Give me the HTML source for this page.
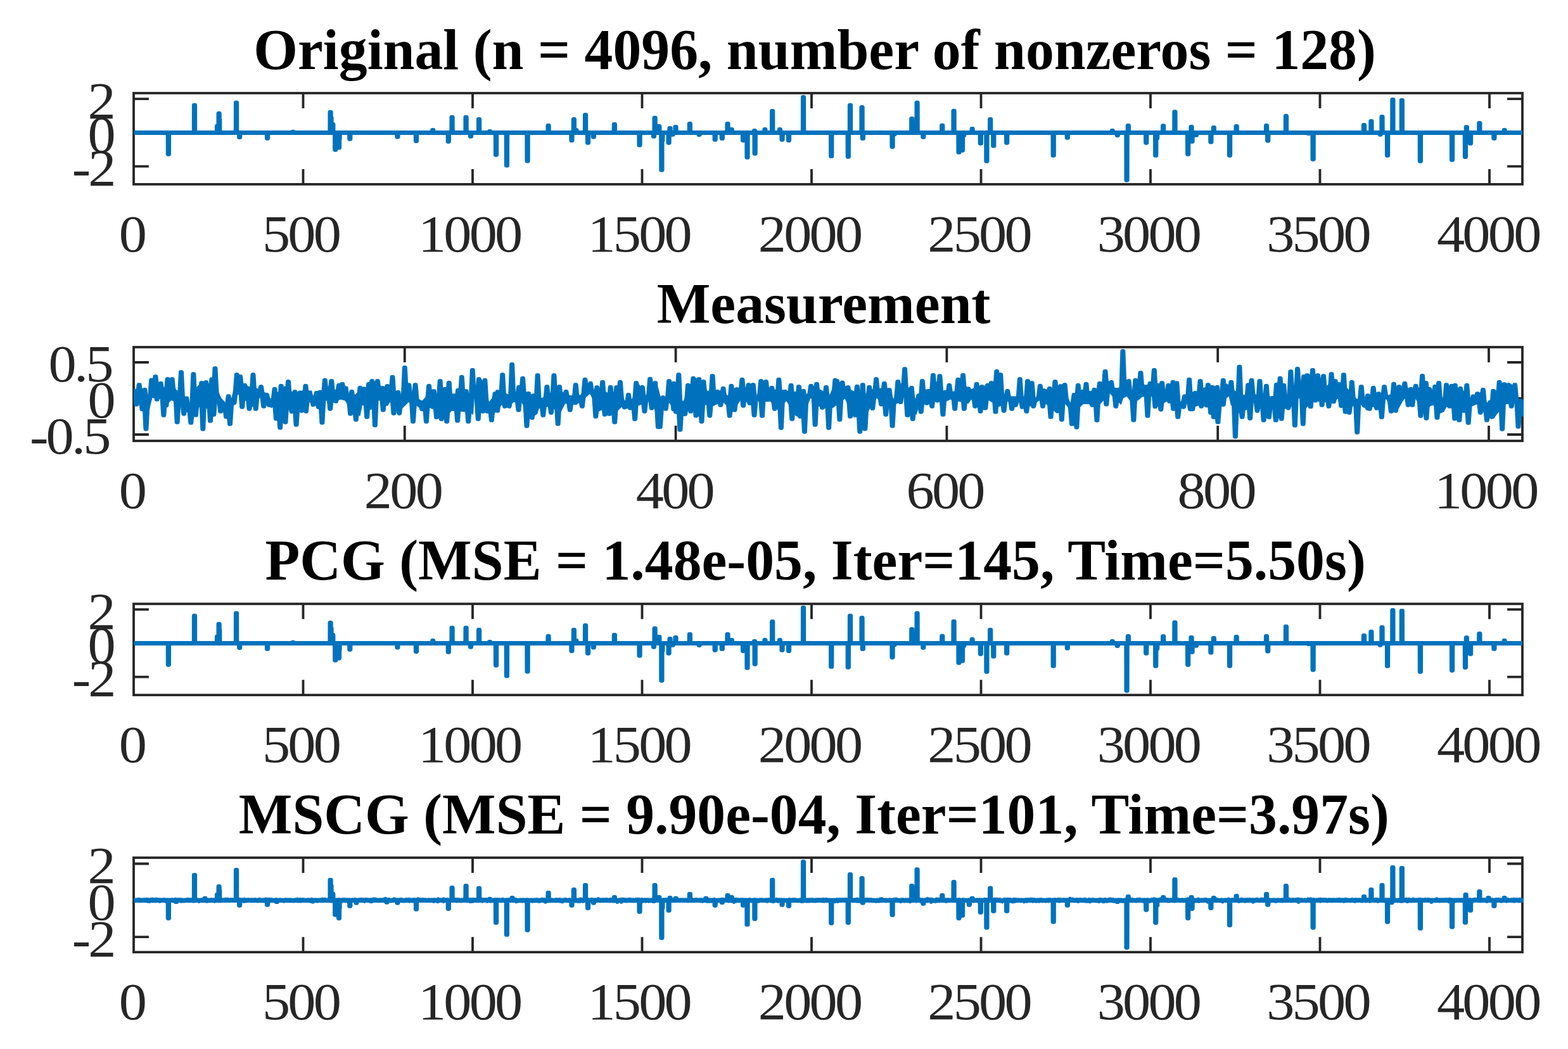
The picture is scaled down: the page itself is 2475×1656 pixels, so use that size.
<!DOCTYPE html>
<html lang="en">
<head>
<meta charset="utf-8">
<title>Sparse signal reconstruction: Original, Measurement, PCG, MSCG</title>
<style>
html,body{margin:0;padding:0;background:#fff;}
body{width:2475px;height:1656px;overflow:hidden;}
svg{display:block;}
text{font-family:"Liberation Serif",serif;}
.t{font-size:82.6px;letter-spacing:-3.5px;fill:#262626;}
.h{font-size:90.3px;font-weight:bold;fill:#000;}
</style>
</head>
<body>
<svg width="2475" height="1656" viewBox="0 0 2475 1656" role="img" aria-label="Four stacked line plots: Original sparse signal, Measurement, PCG reconstruction, MSCG reconstruction">
<rect width="100%" height="100%" fill="#fff"/>
<clipPath id="c0"><rect x="211.0" y="147.0" width="2192" height="143.9"/></clipPath>
<rect x="211.0" y="147.0" width="2192" height="143.9" fill="none" stroke="#262626" stroke-width="3.8" stroke-linejoin="miter"/>
<path d="M478.5 290.9V267M478.5 147V170.9M746 290.9V267M746 147V170.9M1013.5 290.9V267M1013.5 147V170.9M1281 290.9V267M1281 147V170.9M1548.5 290.9V267M1548.5 147V170.9M1816 290.9V267M1816 147V170.9M2083.5 290.9V267M2083.5 147V170.9M2351 290.9V267M2351 147V170.9M211 156.21H234.9M2403 156.21H2379.1M211 209.45H234.9M2403 209.45H2379.1M211 262.69H234.9M2403 262.69H2379.1" fill="none" stroke="#262626" stroke-width="3.8" stroke-linecap="butt"/>
<g clip-path="url(#c0)" fill="none" stroke="#0072BD" stroke-width="7.0" stroke-linejoin="round" stroke-linecap="butt">
<path d="M211.5 209.45H2405.0M265.21 209.45L265.31 243.17L266.51 243.17L266.61 209.45M306.3 209.45L306.4 166.34L307.6 166.34L307.7 209.45M342.38 209.45L342.48 199.36L343.68 199.36L343.78 209.45M344.95 209.45L345.05 179.27L346.25 179.27L346.35 209.45M345.49 209.45L345.59 188.48L346.79 188.48L346.89 209.45M372.34 209.45L372.44 162.37L373.64 162.37L373.74 209.45M377.46 209.45L377.56 216.42L378.76 216.42L378.86 209.45M421.36 209.45L421.46 218.22L422.66 218.22L422.76 209.45M461.67 209.45L461.77 208.32L462.97 208.32L463.07 209.45M520.9 209.45L521 177.35L522.2 177.35L522.3 209.45M521.8 209.45L521.9 185.92L523.1 185.92L523.2 209.45M524.61 209.45L524.71 196.42L525.91 196.42L526.01 209.45M528.57 209.45L528.67 236.26L529.87 236.26L529.97 209.45M534.33 209.45L534.43 232.93L535.63 232.93L535.73 209.45M534.87 209.45L534.97 219.24L536.17 219.24L536.27 209.45M551.61 209.45L551.71 219.24L552.91 219.24L553.01 209.45M626.74 209.45L626.84 216.04L628.04 216.04L628.14 209.45M656.31 209.45L656.41 222.44L657.61 222.44L657.71 209.45M682.54 209.45L682.64 205.38L683.84 205.38L683.94 209.45M707.12 209.45L707.22 223.34L708.42 223.34L708.52 209.45M712.88 209.45L712.98 185.28L714.18 185.28L714.28 209.45M734.89 209.45L734.99 185.28L736.19 185.28L736.29 209.45M742.31 209.45L742.41 215.14L743.61 215.14L743.71 209.45M755.37 209.45L755.47 188.48L756.67 188.48L756.77 209.45M772.39 209.45L772.49 207.43L773.69 207.43L773.79 209.45M782.34 209.45L782.44 244.2L783.64 244.2L783.74 209.45M799.23 209.45L799.33 261.09L800.53 261.09L800.63 209.45M831.87 209.45L831.97 254.05L833.17 254.05L833.27 209.45M864.89 209.45L864.99 198.47L866.19 198.47L866.29 209.45M901.75 209.45L901.85 221.42L903.05 221.42L903.15 209.45M905.2 209.45L905.3 188.48L906.5 188.48L906.6 209.45M908.66 209.45L908.76 205.38L909.96 205.38L910.06 209.45M923.38 209.45L923.48 181.44L924.68 181.44L924.78 209.45M927.35 209.45L927.45 225.26L928.65 225.26L928.75 209.45M936.18 209.45L936.28 216.04L937.48 216.04L937.58 209.45M969.2 209.45L969.3 196.42L970.5 196.42L970.6 209.45M1008.87 209.45L1008.97 229.1L1010.17 229.1L1010.27 209.45M1031.27 209.45L1031.37 215.14L1032.57 215.14L1032.67 209.45M1032.93 209.45L1033.03 186.31L1034.23 186.31L1034.33 209.45M1039.59 209.45L1039.69 199.62L1040.89 199.62L1040.99 209.45M1043.69 209.45L1043.79 268.13L1044.99 268.13L1045.09 209.45M1044.68 209.45L1044.78 221.42L1045.98 221.42L1046.08 209.45M1054.91 209.45L1055.01 225.26L1056.21 225.26L1056.31 209.45M1056.83 209.45L1056.93 202.56L1058.13 202.56L1058.23 209.45M1061.06 209.45L1061.16 212.2L1062.36 212.2L1062.46 209.45M1065.79 209.45L1065.89 200.39L1067.09 200.39L1067.19 209.45M1088.19 209.45L1088.29 195.52L1089.49 195.52L1089.59 209.45M1102.91 209.45L1103.01 212.46L1104.21 212.46L1104.31 209.45M1127.99 209.45L1128.09 220.14L1129.29 220.14L1129.39 209.45M1139.13 209.45L1139.23 218.34L1140.43 218.34L1140.53 209.45M1147.83 209.45L1147.93 195.4L1149.13 195.4L1149.23 209.45M1154.1 209.45L1154.2 204.48L1155.4 204.48L1155.5 209.45M1172.41 209.45L1172.51 221.42L1173.71 221.42L1173.81 209.45M1178.81 209.45L1178.91 248.29L1180.11 248.29L1180.21 209.45M1190.32 209.45L1190.42 206.4L1191.62 206.4L1191.72 209.45M1190.96 209.45L1191.06 242.28L1192.26 242.28L1192.36 209.45M1206.71 209.45L1206.81 204.48L1208.01 204.48L1208.11 209.45M1218.48 209.45L1218.58 175.43L1219.78 175.43L1219.88 209.45M1230.26 209.45L1230.36 204.48L1231.56 204.48L1231.66 209.45M1233.84 209.45L1233.94 220.26L1235.14 220.26L1235.24 209.45M1244.33 209.45L1244.43 221.42L1245.63 221.42L1245.73 209.45M1267.37 209.45L1267.47 153.42L1268.67 153.42L1268.77 209.45M1311.53 209.45L1311.63 246.37L1312.83 246.37L1312.93 209.45M1338.11 209.45L1338.21 247.14L1339.41 247.14L1339.51 209.45M1341.31 209.45L1341.41 166.34L1342.61 166.34L1342.71 209.45M1359.87 209.45L1359.97 169.54L1361.17 169.54L1361.27 209.45M1361.15 209.45L1361.25 218.34L1362.45 218.34L1362.55 209.45M1407.87 209.45L1407.97 231.4L1409.17 231.4L1409.27 209.45M1411.07 209.45L1411.17 211.56L1412.37 211.56L1412.47 209.45M1438.58 209.45L1438.68 187.46L1439.88 187.46L1439.98 209.45M1446.9 209.45L1447 162.37L1448.2 162.37L1448.3 209.45M1456.63 209.45L1456.73 216.3L1457.93 216.3L1458.03 209.45M1486.58 209.45L1486.68 198.34L1487.88 198.34L1487.98 209.45M1504.88 209.45L1504.98 175.3L1506.18 175.3L1506.28 209.45M1512.82 209.45L1512.92 240.36L1514.12 240.36L1514.22 209.45M1518.32 209.45L1518.42 237.16L1519.62 237.16L1519.72 209.45M1520.5 209.45L1520.6 213.48L1521.8 213.48L1521.9 209.45M1533.93 209.45L1534.03 203.46L1535.23 203.46L1535.33 209.45M1547.12 209.45L1547.22 226.28L1548.42 226.28L1548.52 209.45M1556.71 209.45L1556.81 254.18L1558.01 254.18L1558.11 209.45M1562.47 209.45L1562.57 188.48L1563.77 188.48L1563.87 209.45M1567.59 209.45L1567.69 230.12L1568.89 230.12L1568.99 209.45M1588.46 209.45L1588.56 225.26L1589.76 225.26L1589.86 209.45M1662.01 209.45L1662.11 245.22L1663.31 245.22L1663.41 209.45M1684.15 209.45L1684.25 217.32L1685.45 217.32L1685.55 209.45M1755.06 209.45L1755.16 206.4L1756.36 206.4L1756.46 209.45M1763.12 209.45L1763.22 213.48L1764.42 213.48L1764.52 209.45M1777.84 209.45L1777.94 284.26L1779.14 284.26L1779.24 209.45M1780.14 209.45L1780.24 198.47L1781.44 198.47L1781.54 209.45M1808.56 209.45L1808.66 225.26L1809.86 225.26L1809.96 209.45M1823.53 209.45L1823.63 245.22L1824.83 245.22L1824.93 209.45M1825.46 209.45L1825.56 217.96L1826.76 217.96L1826.86 209.45M1835.43 209.45L1835.53 198.72L1836.73 198.72L1836.83 209.45M1853.74 209.45L1853.84 176.71L1855.04 176.71L1855.14 209.45M1874.47 209.45L1874.57 243.17L1875.77 243.17L1875.87 209.45M1879.85 209.45L1879.95 200.39L1881.15 200.39L1881.25 209.45M1880.87 209.45L1880.97 223.34L1882.17 223.34L1882.27 209.45M1887.27 209.45L1887.37 213.22L1888.57 213.22L1888.67 209.45M1910.66 209.45L1910.76 223.98L1911.96 223.98L1912.06 209.45M1915.14 209.45L1915.24 201.54L1916.44 201.54L1916.54 209.45M1940.35 209.45L1940.45 245.22L1941.65 245.22L1941.75 209.45M1950.97 209.45L1951.07 199.62L1952.27 199.62L1952.37 209.45M1998.33 209.45L1998.43 198.47L1999.63 198.47L1999.73 209.45M2000.5 209.45L2000.6 222.06L2001.8 222.06L2001.9 209.45M2029.3 209.45L2029.4 183.36L2030.6 183.36L2030.7 209.45M2064.88 209.45L2064.98 210.54L2066.18 210.54L2066.28 209.45M2071.92 209.45L2072.02 251.24L2073.22 251.24L2073.32 209.45M2152.29 209.45L2152.39 197.44L2153.59 197.44L2153.69 209.45M2163.69 209.45L2163.79 191.43L2164.99 191.43L2165.09 209.45M2177.86 209.45L2177.96 212.2L2179.16 212.2L2179.26 209.45M2180.8 209.45L2180.9 184.39L2182.1 184.39L2182.2 209.45M2189.38 209.45L2189.48 245.22L2190.68 245.22L2190.78 209.45M2197.7 209.45L2197.8 157.38L2199 157.38L2199.1 209.45M2212.16 209.45L2212.26 158.41L2213.46 158.41L2213.56 209.45M2241.21 209.45L2241.31 254.18L2242.51 254.18L2242.61 209.45M2291.38 209.45L2291.48 252.26L2292.68 252.26L2292.78 209.45M2312.24 209.45L2312.34 247.4L2313.54 247.4L2313.64 209.45M2314.16 209.45L2314.26 200.64L2315.46 200.64L2315.56 209.45M2320.31 209.45L2320.41 226.28L2321.61 226.28L2321.71 209.45M2334.64 209.45L2334.74 194.5L2335.94 194.5L2336.04 209.45M2357.68 209.45L2357.78 218.22L2358.98 218.22L2359.08 209.45M2373.93 209.45L2374.03 205.38L2375.23 205.38L2375.33 209.45"/>
</g>
<text class="t" transform="translate(187.8 396.5) scale(1.069 1)">0</text>
<text class="t" transform="translate(413.93 396.5) scale(1.069 1)">500</text>
<text class="t" transform="translate(659.92 396.5) scale(1.069 1)">1000</text>
<text class="t" transform="translate(927.42 396.5) scale(1.069 1)">1500</text>
<text class="t" transform="translate(1196.8 396.5) scale(1.069 1)">2000</text>
<text class="t" transform="translate(1464.3 396.5) scale(1.069 1)">2500</text>
<text class="t" transform="translate(1731.67 396.5) scale(1.069 1)">3000</text>
<text class="t" transform="translate(1999.18 396.5) scale(1.069 1)">3500</text>
<text class="t" transform="translate(2267.93 396.5) scale(1.069 1)">4000</text>
<text class="t" transform="translate(138.62 186.61) scale(1.069 1)">2</text>
<text class="t" transform="translate(138.5 239.85) scale(1.069 1)">0</text>
<text class="t" transform="translate(113.68 293.09) scale(1.069 1)">-2</text>
<text class="h" transform="translate(400.21 108.8) scale(0.9939 1)">Original (n = 4096, number of nonzeros = 128)</text>
<clipPath id="c1"><rect x="211.0" y="548.0" width="2193.9" height="148"/></clipPath>
<rect x="211.0" y="548.0" width="2192" height="148" fill="none" stroke="#262626" stroke-width="3.8" stroke-linejoin="miter"/>
<path d="M638.8 696V672.1M638.8 548V571.9M1066.6 696V672.1M1066.6 548V571.9M1494.4 696V672.1M1494.4 548V571.9M1922.2 696V672.1M1922.2 548V571.9M2350 696V672.1M2350 548V571.9M211 572H234.9M2403 572H2379.1M211 629H234.9M2403 629H2379.1M211 686H234.9M2403 686H2379.1" fill="none" stroke="#262626" stroke-width="3.8" stroke-linecap="butt"/>
<g clip-path="url(#c1)" fill="none" stroke="#0072BD" stroke-width="7.0" stroke-linejoin="round" stroke-linecap="butt">
<path d="M210.99 614.06L214.93 614.06L220.31 613.39L224.49 612.87L227.47 616.45L233.45 623.62L235.84 616.76L241.21 601.33L242.29 598.24L243 598.86L250.17 605.1L252.56 606.74L259.73 611.67L260.32 610.56L268.09 596.14L270.48 600.64L278.24 615.26L284.81 620.11L291.98 625.41L294.37 629.99L299.15 639.15L305.36 623.45L310.49 610.48L315.27 606.78L321.6 601.88L325.43 603.37L331.4 605.7L335.58 595.55L336.18 597L342.75 613.02L345.14 618.84L349.32 628.4L352.9 632.34L355.29 634.97L360.07 631.59L365.44 627.8L368.43 616.28L369.62 611.67L375.6 594.75L376.79 591.37L382.76 605.7L386.95 607.46L394.11 610.48L398.29 611.36L405.46 612.87L410.84 615.55L418.6 619.44L420.75 621.89L426.96 628.99L428.16 627.95L433.83 622.97L438.55 618.84L439.03 618.42L446.67 611.7L449.42 609.28L456.23 614.62L461.6 618.84L463.4 619.05L469.73 619.8L474.15 617.62L476.54 616.45L479.46 616.45L488.36 616.45L491.95 616.45L494.33 625.05L498.52 621.68L502.4 618.55L505.56 617.97L508.97 617.35L514.64 612.71L518.82 609.28L527.18 613.93L529.57 615.26L537.34 606.92L537.64 606.6L544.51 608.89L548.69 610.28L549.28 610.48L551.43 625.41L557.65 623.47L560.99 622.42L568.4 614.98L571.38 611.98L571.98 612.22L577.95 614.66L584.64 604.45L585.12 604.29L591.69 602.12L598.26 606.93L600.65 608.69L606.62 612.27L611.4 609.54L614.98 607.49L615.58 608.24L624.54 619.44L626.33 620.33L632.9 623.62L635.29 619.07L642.16 606.01L644.85 611.92L649.62 622.42L657.99 627.74L662.76 630.78L666.35 632.58L669.33 629.26L678.29 619.3L682.47 614.66L686.06 620.03L688.45 623.62L692.93 619.85L699.8 614.06L701.59 613.6L705.59 612.58L712.94 620.02L714.13 621.23L720.1 624.81L725.96 614.37L729.66 614.52L733.24 614.66L736.53 617.67L740.41 621.23L746.98 617.43L748.77 616.39L751.76 614.66L758.57 602.37L760.66 598.6L765.38 613.55L771.95 634.37L772.42 633.77L780.9 623.12L783.59 619.74L789.45 616.76L792.25 618.05L800.32 621.77L801.21 622.18L810.77 621.55L815.55 621.23L822.12 609.59L823.91 611.44L831.08 618.84L836.45 622.97L838.84 624.81L845.23 622.73L848.4 624.57L850.78 625.96L854.97 628.4L864.52 622.31L868.11 620.03L874.08 614.38L879.45 609.28L885.43 615.61L889.61 620.03L892 621.02L899.76 624.22L909.91 623.63L916.48 623.26L924.25 611.07L928.43 604.51L931.42 608.55L938.58 618.24L944.56 612.77L945.75 611.67L951.13 615L958.29 619.44L965.46 619.86L968.45 620.03L975.02 611.26L976.09 609.83L980.99 620.67L986.37 632.58L989.95 631.78L997.12 630.19L998.43 627.56L1007.87 608.69L1009.06 606.3L1018.62 625.41L1023.4 617.29L1030.56 605.1L1032.35 606.51L1038.92 611.67L1040.36 617.19L1043.58 629.59L1045.97 628.4L1051.35 625.72L1054.93 616.24L1059.71 603.62L1065.09 609.79L1065.68 610.48L1070.16 618.8L1078.23 633.77L1085.99 616.11L1090.17 606.6L1094.35 601.82L1098.83 596.69L1103.01 598.73L1106.89 600.63L1112.87 610.89L1116.45 617.05L1126.01 616.61L1129.59 616.45L1132.58 616.45L1136.76 616.45L1141.54 619.56L1148.7 624.22L1156.47 616.02L1159.45 612.87L1163.04 612.84L1167.22 612.81L1169.01 612.6L1176.77 611.67L1179.16 609.95L1185.14 605.65L1186.93 610.01L1193.5 626.01L1198.28 615.6L1205.15 600.63L1209.62 608L1214.4 615.85L1215.6 615.67L1222.17 614.66L1227.84 614.91L1235.9 615.26L1241.28 616.6L1243.07 617.05L1255.02 618.24L1256.21 617.89L1265.17 615.26L1266.37 616.55L1272.34 623.02L1279.51 614.78L1284.28 609.28L1292.05 613.33L1298.02 616.45L1303.4 619.85L1309.37 623.62L1314.74 611.23L1319.76 599.67L1325.38 614.06L1333.74 609.88L1334.93 609.28L1345.68 616.45L1346.88 616.95L1353.57 619.77L1357.03 621.23L1361.33 621.23L1367.18 621.23L1370.17 619.12L1373.16 617.01L1377.34 614.06L1383.91 613.46L1390.48 612.87L1394.66 612.62L1400.63 612.27L1402.42 615.52L1410.19 629.59L1417.35 614.9L1422.13 605.1L1426.91 607.61L1434.68 611.67L1435.27 612.63L1445.43 628.99L1446.62 628.01L1449.61 625.54L1453.01 622.73L1458.57 617.48L1461.55 614.66L1466.93 615.31L1469.02 615.56L1475.89 605.59L1478.28 602.12L1483.95 610.13L1488.43 616.45L1495 617.56L1495.18 617.59L1500.38 617.62L1506.35 617.65L1512.92 604.15L1516.2 597.4L1525.46 609.88L1528.45 612.27L1531.43 614.66L1533.23 613.99L1543.38 610.18L1545.77 609.28L1552.94 608.81L1554.73 608.69L1560.7 606.95L1561.89 606.6L1569.06 602.66L1576.23 589.64L1578.62 600.57L1583.4 622.42L1589.97 623.85L1597.13 625.41L1600.06 625.5L1608.36 625.76L1616.13 626.01L1617.02 623.75L1625.38 602.66L1626.28 605.59L1633.45 628.99L1641.21 620.26L1647.78 612.87L1651.96 614.66L1652.56 614.49L1660.32 612.27L1667.49 609.74L1670.48 608.69L1677.35 607.8L1681.83 617.96L1687.8 631.5L1689.59 635.56L1692.58 620.63L1695.68 621.09L1698.67 621.53L1705.12 616.52L1707.51 614.66L1709.9 615.61L1717.66 618.72L1719.45 619.44L1724.53 618.55L1727.82 615.55L1731.4 612.27L1737.97 604.29L1739.76 602.12L1748.72 599.73L1751.71 603.35L1758.87 612.03L1765.44 612.27L1769.62 607.69L1773.21 603.77L1777.99 598.53L1778.58 600.36L1783.96 616.85L1786.95 626.01L1795.9 599.99L1796.38 598.6L1803.07 604.33L1806.06 606.89L1812.03 609.28L1818.6 603.72L1818.72 603.62L1826.96 605.7L1827.56 605.9L1830.55 606.89L1839.51 614.66L1842.49 611.78L1847.87 606.6L1849.66 605.63L1854.44 603.02L1855.63 608.03L1862.2 635.56L1864.59 633.11L1873.55 623.92L1880.66 619.9L1883.58 618.24L1885.38 618.32L1890.57 618.55L1891.95 617.63L1900.61 611.87L1900.9 611.67L1908.07 610.06L1910.16 609.59L1913.45 609.59L1917.33 609.59L1919.12 614.63L1924.44 629.59L1927.18 623.84L1934.95 607.6L1936.14 605.1L1939.73 608.34L1942.71 611.05L1948.69 616.45L1955.26 619.74L1961.83 623.02L1965.41 624.22L1967.2 624.81L1968.4 620.85L1972.88 606.01L1978.55 616.43L1982.13 623.02L1989.3 621.95L1994.08 621.23L1998.86 623.2L2004.23 625.41L2006.62 626.21L2011.4 627.8L2017.79 605.41L2018.57 605.57L2023.46 606.6L2027.53 620.08L2030.75 630.78L2038.28 616.58L2042.46 608.69L2051.42 606.45L2054.4 605.7L2060.67 592.87L2061.57 593.15L2067.3 594.95L2072.32 593.42L2077.1 591.96L2080.68 594.99L2084.86 598.53L2091.43 605.51L2094.42 608.69L2102.18 601.79L2104.57 599.67L2110.55 604.81L2111.74 605.54L2115.92 608.09L2120.4 609.77L2125.48 611.67L2126.67 612.87L2128.46 614.66L2135.03 622.12L2141.6 629.59L2148.17 630.16L2155.34 630.78L2156.24 629.88L2160.36 625.73L2163.34 622.73L2165.97 622.05L2173.74 620.03L2177.02 621.23L2180.31 622.42L2187.47 623.14L2192.25 623.62L2199.42 620.1L2204.44 617.65L2207.78 614.2L2212.56 609.28L2213.75 609.7L2217.34 610.97L2222.71 612.87L2226 612.75L2230.78 612.58L2234.06 612.25L2240.03 611.67L2247.2 603.48L2247.92 602.66L2253.77 611.67L2257.95 614.89L2261.54 617.65L2262.73 615.96L2268.11 608.39L2272.88 618.4L2277.66 628.4L2279.45 624.81L2283.04 617.65L2287.22 609.28L2291.4 608.23L2294.09 607.56L2299.76 617.21L2300.72 618.84L2307.53 617.07L2309.91 616.45L2314.1 621.51L2321.26 630.19L2323.65 628.18L2328.73 623.92L2332.01 621.85L2336.79 618.84L2341.57 626.27L2347.54 635.56L2353.52 633.33L2354.71 632.88L2358.29 624.22L2361.88 615.56L2363.07 614.08L2370.54 604.81L2377.41 611.67L2381.59 608.69L2385.77 605.7L2390.55 615.26L2397.12 628.4L2403.69 651.09L2403.69 658.26L2397.12 647.51L2390.55 636.76L2385.77 637.39L2381.59 637.95L2377.41 637.95L2370.54 645.39L2363.07 653.48L2361.88 655.27L2358.29 660.65L2354.71 661.54L2353.52 661.84L2347.54 656.47L2341.57 651.09L2336.79 644.52L2332.01 637.95L2328.73 639.36L2323.65 641.54L2321.26 643.7L2314.1 650.19L2309.91 648.1L2307.53 646.91L2300.72 660.78L2299.76 662.73L2294.09 649.97L2291.4 643.92L2287.22 643.33L2283.04 642.73L2279.45 649.9L2277.66 650.71L2272.88 652.88L2268.11 646.7L2262.73 639.74L2261.54 640.04L2257.95 640.94L2253.77 645.82L2247.92 652.65L2247.2 653.48L2240.03 640.12L2234.06 628.99L2230.78 633.98L2226 641.23L2222.71 636.59L2217.34 628.99L2213.75 634.37L2212.56 636.52L2207.78 645.12L2204.44 647.15L2199.42 650.19L2192.25 637.83L2187.47 629.59L2180.31 640.85L2177.02 646.01L2173.74 644.86L2165.97 642.13L2163.34 644.23L2160.36 646.61L2156.24 642.19L2155.34 641.85L2148.17 639.15L2141.6 640.34L2135.03 641.54L2128.46 649.74L2126.67 651.98L2125.48 650.16L2120.4 642.42L2115.92 635.79L2111.74 629.59L2110.55 630.56L2104.57 635.41L2102.18 637.35L2094.42 635.63L2091.43 634.97L2084.86 634.24L2080.68 633.77L2077.1 634.03L2072.32 634.37L2067.3 639.11L2061.57 644.52L2060.67 643.05L2054.4 632.72L2051.42 627.8L2042.46 637.57L2038.28 642.13L2030.75 644.64L2027.53 645.72L2023.46 652.49L2018.57 660.65L2017.79 659.44L2011.4 649.54L2006.62 642.13L2004.23 647.74L1998.86 660.34L1994.08 652.73L1989.3 645.12L1982.13 638.75L1978.55 635.56L1972.88 641.9L1968.4 646.91L1967.2 647.15L1965.41 647.51L1961.83 649.19L1955.26 652.29L1948.69 645.4L1942.71 639.15L1939.73 626.01L1936.14 628.25L1934.95 628.99L1927.18 642.73L1924.44 648.73L1919.12 660.34L1917.33 658.08L1913.45 653.18L1910.16 646.24L1908.07 641.83L1900.9 641.83L1900.61 641.83L1891.95 637.35L1890.57 638.48L1885.38 642.73L1883.58 644.66L1880.66 647.8L1873.55 636.76L1864.59 645.72L1862.2 646.11L1855.63 647.2L1854.44 644.88L1849.66 635.56L1847.87 634.97L1842.49 633.17L1839.51 634.97L1830.55 640.34L1827.56 642.13L1826.96 641.06L1818.72 626.22L1818.6 626.01L1812.03 626.26L1806.06 626.49L1803.07 626.6L1796.38 632.18L1795.9 632.58L1786.95 633.02L1783.96 633.17L1778.58 626.01L1777.99 626.27L1773.21 628.4L1769.62 639.15L1765.44 634.97L1758.87 628.4L1751.71 621.23L1748.72 624.6L1739.76 634.73L1737.97 636.76L1731.4 639.65L1727.82 641.23L1724.53 640.17L1719.45 638.53L1717.66 637.95L1709.9 637.95L1707.51 640.34L1705.12 642.73L1698.67 662.12L1695.68 671.09L1692.58 661.33L1689.59 651.95L1687.8 646.31L1681.83 637.95L1677.35 643.61L1670.48 652.29L1667.49 652.29L1660.32 645.98L1652.56 639.15L1651.96 638.77L1647.78 636.13L1641.21 631.98L1633.45 636.95L1626.28 641.54L1625.38 641.8L1617.02 644.22L1616.13 642.95L1608.36 631.98L1600.06 641.23L1597.13 638.89L1589.97 633.17L1583.4 638.02L1578.62 641.54L1576.23 642.13L1569.06 637.45L1561.89 632.76L1560.7 631.98L1554.73 643.47L1552.94 646.91L1545.77 644.17L1543.38 643.26L1533.23 630.78L1531.43 633.25L1528.45 637.35L1525.46 636.67L1516.2 634.53L1512.92 633.77L1506.35 632.21L1500.38 630.78L1495.18 633.09L1495 633.17L1488.43 633.7L1483.95 634.06L1478.28 632.18L1475.89 631.38L1469.02 636.42L1466.93 637.95L1461.55 636.42L1458.57 635.56L1453.01 641.49L1449.61 645.12L1446.62 654.68L1445.43 654.17L1435.27 649.9L1434.68 648.06L1426.91 624.22L1422.13 630.49L1417.35 636.76L1410.19 639.05L1402.42 641.54L1400.63 641.19L1394.66 640.04L1390.48 635.51L1383.91 628.4L1377.34 638.62L1373.16 645.12L1370.17 651.09L1367.18 660.47L1361.33 678.86L1357.03 666.95L1353.57 657.36L1346.88 658.26L1345.68 655.65L1334.93 632.2L1333.74 629.59L1325.38 635.9L1319.76 640.14L1314.74 643.92L1309.37 644.49L1303.4 645.12L1298.02 643.42L1292.05 641.54L1284.28 633.4L1279.51 628.4L1272.34 645.17L1266.37 659.15L1265.17 658.9L1256.21 657.06L1255.02 655.15L1243.07 636.04L1241.28 633.17L1235.9 638.79L1227.84 647.2L1222.17 640.98L1215.6 633.77L1214.4 633.89L1209.62 634.37L1205.15 633.9L1198.28 633.17L1193.5 635.31L1186.93 638.24L1185.14 637.49L1179.16 634.97L1176.77 634.12L1169.01 631.38L1167.22 634.25L1163.04 640.94L1159.45 646.15L1156.47 650.49L1148.7 642.42L1141.54 634.97L1136.76 636.56L1132.58 637.95L1129.59 639.31L1126.01 640.94L1116.45 639.64L1112.87 639.15L1106.89 650.55L1103.01 657.95L1098.83 653.2L1094.35 648.11L1090.17 648.4L1085.99 648.7L1078.23 657.66L1070.16 651.98L1065.68 648.29L1065.09 647.8L1059.71 640.69L1054.93 634.37L1051.35 640.58L1045.97 649.9L1043.58 660.95L1040.36 675.87L1038.92 670.04L1032.35 643.33L1030.56 641.54L1023.4 634.37L1018.62 636.21L1009.06 639.88L1007.87 640.34L998.43 646.01L997.12 645.87L989.95 645.12L986.37 644.16L980.99 642.73L976.09 647.63L975.02 648.7L968.45 652.4L965.46 654.08L958.29 655.21L951.13 646.91L945.75 649.35L944.56 649.9L938.58 637.14L931.42 621.83L928.43 624.31L924.25 627.8L916.48 633.95L909.91 639.15L899.76 638.13L892 637.35L889.61 642.13L885.43 650.49L879.45 647.98L874.08 645.72L868.11 643.48L864.52 642.13L854.97 644.21L850.78 645.12L848.4 653.48L845.23 655.38L838.84 659.22L836.45 660.65L831.08 650.15L823.91 636.16L822.12 636L815.55 635.4L810.77 634.97L801.21 642.55L800.32 643.26L792.25 639.15L789.45 642.4L783.59 649.17L780.9 652.29L772.42 651.15L771.95 650.9L765.38 647.51L760.66 650.03L758.57 651.15L751.76 636.16L748.77 629.59L746.98 654.68L740.41 651.1L736.53 648.99L733.24 649.43L729.66 649.9L725.96 649.63L720.1 649.22L714.13 648.79L712.94 648.7L705.59 656.44L701.59 660.65L699.8 660.59L692.93 660.34L688.45 649.83L686.06 644.22L682.47 644.08L678.29 643.92L669.33 648.7L666.35 646.66L662.76 644.21L657.99 640.94L649.62 637.14L644.85 634.97L642.16 637.65L635.29 644.52L632.9 645.32L626.33 647.51L624.54 645.42L615.58 634.97L614.98 635.9L611.4 641.54L606.62 638.06L600.65 633.72L598.26 631.98L591.69 639.74L585.12 647.51L584.64 647.2L577.95 642.95L571.98 639.15L571.38 642.13L568.4 657.06L560.99 653.36L557.65 651.69L551.43 642.99L549.28 639.98L548.69 639.15L544.51 632.58L537.64 630.86L537.34 630.78L529.57 634.44L527.18 635.56L518.82 633.57L514.64 632.58L508.97 639.85L505.56 644.22L502.4 642.61L498.52 640.63L494.33 638.3L491.95 636.97L488.36 634.97L479.46 650.19L476.54 650.69L474.15 651.09L469.73 651.83L463.4 652.88L461.6 650.94L456.23 645.12L449.42 657.03L446.67 661.84L439.03 662.73L438.55 660.81L433.83 641.83L428.16 643.92L426.96 643.35L420.75 640.34L418.6 637.49L410.84 627.2L405.46 633.86L398.29 642.73L394.11 638.77L386.95 631.98L382.76 628.46L376.79 623.43L375.6 622.42L369.62 637.35L368.43 640.34L365.44 647.27L360.07 659.75L355.29 651.19L352.9 646.91L349.32 642.48L345.14 637.32L342.75 634.37L336.18 658.26L335.58 657.46L331.4 651.89L325.43 643.92L321.6 643.03L315.27 641.54L310.49 650.46L305.36 660.05L299.15 654.31L294.37 649.9L291.98 646.91L284.81 637.95L278.24 635.21L270.48 631.98L268.09 634.3L260.32 641.83L259.73 640.89L252.56 629.59L250.17 627.8L243 622.42L242.29 622.9L241.21 623.62L235.84 647.51L233.45 647.59L227.47 647.8L224.49 642.45L220.31 634.97L214.93 633.93L210.99 633.17Z" fill="#0072BD" stroke="none"/>
<path d="M217.01 624.07L219.21 607.65L220.21 607.65L222.41 625.93M225.73 629.52L227.93 615.53L228.93 615.53L231.13 634.26M236.48 629.78L238.68 600.24L239.68 600.24L241.88 611.29M242.69 610.61L244.89 594.63L245.89 594.63L248.09 614.77M251.05 617.09L253.25 605.62L254.25 605.62L256.45 622.58M261.81 624.1L264.01 598.69L265.01 598.69L267.21 616.47M268.97 615.62L271.17 598.69L272.17 598.69L274.37 620.79M283.31 628.16L285.51 587.7L286.51 587.7L288.71 632.91M291.67 635.85L293.87 628.91L294.87 628.91L297.07 643.78M302.66 643.92L304.86 590.68L305.86 590.68L308.06 635.82M315.56 624.08L317.76 604.66L318.76 604.66L320.96 622.63M322.49 622.73L324.69 603.82L325.69 603.82L327.89 625.77M331.69 628.64L333.89 599.05L334.89 599.05L337.09 627.09M336.82 627.24L339.02 581.73L340.02 581.73L342.22 624.01M357.97 644.53L360.17 625.68L361.17 625.68L363.37 640.68M371.11 620.56L373.31 591.64L374.31 591.64L376.51 607.68M376.48 607.71L378.68 594.87L379.68 594.87L381.88 615.65M383.65 617.64L385.85 608.6L386.85 608.6L389.05 621.16M396.79 626.17L398.99 591.64L399.99 591.64L402.19 625.04M409.33 621.93L411.53 610.63L412.53 610.63L414.73 624.93M418.29 628.18L420.49 623.53L421.49 623.53L423.69 633.51M430.83 634.27L433.03 614.58L434.03 614.58L436.23 636.18M440.99 639.6L443.19 609.56L444.19 609.56L446.39 636.91M452.33 631.75L454.53 602.63L455.53 602.63L457.73 631.28M462.73 635.57L464.93 618.76L465.93 618.76L468.13 635.85M470.85 635.44L473.05 619.95L474.05 619.95L476.25 633.66M479.69 633.13L481.89 609.56L482.89 609.56L485.09 628.51M497.01 631.34L499.21 620.55L500.21 620.55L502.41 630.58M502.39 630.58L504.59 619.35L505.59 619.35L507.79 629.47M510.15 627.36L512.35 600.6L513.35 600.6L515.55 622.38M520.54 622.11L522.74 601.67L523.74 601.67L525.94 624.25M532.25 622.78L534.45 608.6L535.45 608.6L537.65 618.73M537.62 618.74L539.82 606.45L540.82 606.45L543.02 620.3M552.56 634.81L554.76 618.52L555.76 618.52L557.96 637.61M565.7 636.7L567.9 612.42L568.9 612.42L571.1 627.92M571.67 626.4L573.87 613.98L574.87 613.98L577.07 628.34M579.43 628.14L581.63 606.45L582.63 606.45L584.83 625.86M584.45 625.91L586.65 601.67L587.65 601.67L589.85 622.32M593.17 620.6L595.37 601.67L596.37 601.67L598.57 619.68M601.53 621.79L603.73 612.78L604.73 612.78L606.93 625.19M608.7 625.33L610.9 609.8L611.9 609.8L614.1 622.64M616.82 623.1L619.02 595.46L620.02 595.46L622.22 629.63M625.66 633.36L627.86 619.59L628.86 619.59L631.06 634.31M636.17 630.52L638.37 580.53L639.37 580.53L641.57 622.68M642.74 622.18L644.94 608.01L645.94 608.01L648.14 627.82M652.9 631.57L655.1 607.65L656.1 607.65L658.3 634.55M674.4 634.82L676.6 609.56L677.6 609.56L679.8 630.81M682.16 629.54L684.36 617.8L685.36 617.8L687.56 635.02M691.96 639.37L694.16 601.67L695.16 601.67L697.36 638.31M699.72 637.35L701.92 614.58L702.92 614.58L705.12 634.81M706.05 634.5L708.25 604.42L709.25 604.42L711.45 634.39M714.42 635.1L716.62 624.73L717.62 624.73L719.82 636.92M720.39 636.77L722.59 616.37L723.59 616.37L725.79 632.14M726.12 632.01L728.32 595.46L729.32 595.46L731.52 632.12M732.93 632.06L735.13 617.8L736.13 617.8L738.33 634.65M743.08 636.12L745.28 584.47L746.28 584.47L748.48 625.08M753.24 625.7L755.44 598.69L756.44 598.69L758.64 626.67M762.68 626.97L764.88 600.6L765.88 600.6L768.08 635.5M778.8 638.88L781 621.74L782 621.74L784.2 633.95M782.98 635.19L785.18 618.76L786.18 618.76L788.38 630.46M790.51 629.21L792.71 591.64L793.71 591.64L795.91 630.37M805.44 630.55L807.64 575.51L808.64 575.51L810.84 628.26M816.43 627.57L818.63 611.59L819.63 611.59L821.83 623.03M822.4 622.95L824.6 597.61L825.6 597.61L827.8 629.61M831.36 634.89L833.56 621.5L834.56 621.5L836.76 641.84M839.13 641.88L841.33 624.73L842.33 624.73L844.53 639.38M845.93 639.05L848.13 592.72L849.13 592.72L851.33 635.64M860.63 633.89L862.83 610.63L863.83 610.63L866.03 632.03M871.74 630.72L873.94 592.72L874.94 592.72L877.14 629.24M880.34 629.29L882.54 610.63L883.54 610.63L885.74 632.9M890.73 630.19L892.93 618.52L893.93 618.52L896.13 630.24M906.02 631.31L908.22 607.65L909.22 607.65L911.42 630.75M920.71 623.61L922.91 599.4L923.91 599.4L926.11 617.19M929.31 614.64L931.51 605.62L932.51 605.62L934.71 620.94M939.47 628.23L941.67 611.83L942.67 611.83L944.87 631.12M948.43 630.73L950.63 603.59L951.63 603.59L953.83 633.35M960.97 637.19L963.17 611.59L964.17 611.59L966.37 636.74M970.53 634.24L972.73 611.83L973.73 611.83L975.93 628.92M976.26 628.83L978.46 603.59L979.46 603.59L981.66 632.53M989.28 638.44L991.48 623.53L992.48 623.53L994.68 638.17M1001.58 632.68L1003.78 604.66L1004.78 604.66L1006.98 625.66M1011.14 624.77L1013.34 611.59L1014.34 611.59L1016.54 629.13M1023.44 625.81L1025.64 598.45L1026.64 598.45L1028.84 623.92M1031.45 624.11L1033.65 604.66L1034.65 604.66L1036.85 635.82M1043.87 644.54L1046.07 627.72L1047.07 627.72L1049.27 635.47M1053.43 628.6L1055.63 601.67L1056.63 601.67L1058.83 622.74M1060.59 623.24L1062.79 605.62L1063.79 605.62L1065.99 629.8M1068.6 633.29L1070.8 591.64L1071.8 591.64L1074 640.3M1083.29 637.04L1085.49 608.6L1086.49 608.6L1088.69 629.24M1091.65 626.6L1093.85 597.61L1094.85 597.61L1097.05 624.95M1100.61 626.39L1102.81 598.69L1103.81 598.69L1106.01 626.21M1107.78 625.5L1109.98 602.63L1110.98 602.63L1113.18 625.31M1121.87 628.59L1124.07 593.67L1125.07 593.67L1127.27 628.46M1129.88 627.82L1132.08 618.52L1133.08 618.52L1135.28 626.75M1138.84 626.83L1141.04 613.62L1142.04 613.62L1144.24 629.54M1151.74 633.29L1153.94 609.56L1154.94 609.56L1157.14 632.42M1160.34 628.86L1162.54 614.81L1163.54 614.81L1165.74 624.72M1168.7 622.26L1170.9 599.4L1171.9 599.4L1174.1 622.59M1178.85 622.52L1181.05 607.65L1182.05 607.65L1184.25 621.7M1186.02 622.83L1188.22 607.65L1189.22 607.65L1191.42 628.59M1198.56 624.09L1200.76 601.67L1201.76 601.67L1203.96 618.49M1206.33 618.3L1208.53 602.63L1209.53 602.63L1211.73 622.81M1215.64 624.74L1217.84 612.54L1218.84 612.54L1221.04 627.29M1226.63 630.37L1228.83 599.4L1229.83 599.4L1232.03 628.96M1236.19 626.91L1238.39 618.52L1239.39 618.52L1241.59 625.17M1245.99 629.02L1248.19 608.6L1249.19 608.6L1251.39 633.61M1258.29 637.39L1260.49 610.63L1261.49 610.63L1263.69 637.15M1265.46 637.26L1267.66 617.56L1268.66 617.56L1270.86 635.03M1277.4 625.26L1279.6 609.56L1280.6 609.56L1282.8 621.42M1286.36 622.97L1288.56 606.57L1289.56 606.57L1291.76 627.21M1301.29 631.49L1303.49 611.59L1304.49 611.59L1306.69 633.35M1315.63 626.23L1317.83 600.6L1318.83 600.6L1321.03 621.05M1318.49 621.84L1320.69 601.67L1321.69 601.67L1323.89 623.64M1326.86 624.05L1329.06 604.18L1330.06 604.18L1332.26 620.66M1335.82 622L1338.02 611.83L1339.02 611.83L1341.22 629.69M1350.15 638.07L1352.35 610.39L1353.35 610.39L1355.55 641.73M1359.11 646.97L1361.31 607.65L1362.31 607.65L1364.51 645.05M1369.5 636.39L1371.7 611.59L1372.7 611.59L1374.9 629.09M1380.37 623.84L1382.57 598.69L1383.57 598.69L1385.77 621.85M1393.15 625.56L1395.35 605.62L1396.35 605.62L1398.55 626.59M1400.92 627.02L1403.12 615.77L1404.12 615.77L1406.32 631.43M1414.65 629.03L1416.85 602.63L1417.85 602.63L1420.05 621.29M1425.41 616.5L1427.61 582.68L1428.61 582.68L1430.81 622.91M1436.16 632.16L1438.36 612.54L1439.36 612.54L1441.56 637.65M1447.5 639.56L1449.7 624.73L1450.7 624.73L1452.9 632.21M1453.12 632L1455.32 601.67L1456.32 601.67L1458.52 626.57M1462.44 625.72L1464.64 617.56L1465.64 617.56L1467.84 626.35M1470.2 624.7L1472.4 592.48L1473.4 592.48L1475.6 618.8M1480.71 619.27L1482.91 593.67L1483.91 593.67L1486.11 623.53M1489.31 625.12L1491.51 619.59L1492.51 619.59L1494.71 625.36M1495.64 625.24L1497.84 608.6L1498.84 608.6L1501.04 624.28M1509.62 621.95L1511.82 599.4L1512.82 599.4L1515.02 617.04M1517.39 616.9L1519.59 592.48L1520.59 592.48L1522.79 621.16M1525.75 623.42L1527.95 613.98L1528.95 613.98L1531.15 624.04M1538.89 624.8L1541.09 606.57L1542.09 606.57L1544.29 626.72M1547.25 626.96L1549.45 610.63L1550.45 610.63L1552.65 627.81M1556.21 624.44L1558.41 608.6L1559.41 608.6L1561.61 619.63M1562.18 619.7L1564.38 604.66L1565.38 604.66L1567.58 619.98M1570.54 619.19L1572.74 586.5L1573.74 586.5L1575.94 616.05M1576.52 616.51L1578.72 591.64L1579.72 591.64L1581.92 627.38M1587.5 629.15L1589.7 617.56L1590.7 617.56L1592.9 630.01M1607.1 629.56L1609.3 598.69L1610.3 598.69L1612.5 631.86M1619.4 630.64L1621.6 601.67L1622.6 601.67L1624.8 623.05M1625.97 623.1L1628.17 604.66L1629.17 604.66L1631.37 630.24M1639.11 627.97L1641.31 609.56L1642.31 609.56L1644.51 625.31M1654.04 627.26L1656.24 613.62L1657.24 613.62L1659.44 628.86M1662.76 629.77L1664.96 602.63L1665.96 602.63L1668.16 630.9M1671.36 629.87L1673.56 609.8L1674.56 609.8L1676.76 626.11M1677.93 626L1680.13 607.65L1681.13 607.65L1683.33 630.71M1692.86 641.45L1695.06 623.53L1696.06 623.53L1698.26 642.41M1699.07 641.06L1701.27 608.6L1702.27 608.6L1704.47 630.84M1711.74 627.15L1713.94 606.57L1714.94 606.57L1717.14 628.23M1719.14 628.87L1721.34 620.55L1722.34 620.55L1724.54 629.36M1724.52 629.36L1726.72 615.53L1727.72 615.53L1729.92 626.96M1733.12 624.54L1735.32 605.62L1736.32 605.62L1738.52 619.88M1741.84 616.97L1744.04 586.5L1745.04 586.5L1747.24 613.2M1751.4 612.27L1753.6 603.59L1754.6 603.59L1756.8 617.92M1769.67 623.32L1771.87 554.61L1772.87 554.61L1775.07 614.65M1778.87 613.82L1781.07 601.67L1782.07 601.67L1784.27 625.48M1789.62 625.56L1791.82 600.6L1792.82 600.6L1795.02 617.59M1797.74 615.41L1799.94 588.65L1800.94 588.65L1803.14 615.5M1807.54 616.96L1809.74 610.63L1810.74 610.63L1812.94 617.37M1812.91 617.38L1815.11 605.62L1816.11 605.62L1818.31 614.99M1819.13 615.34L1821.33 584.47L1822.33 584.47L1824.53 620.88M1825.46 621.83L1827.66 608.6L1828.66 608.6L1830.86 623.66M1831.43 623.74L1833.63 604.66L1834.63 604.66L1836.83 624.46M1841.58 623.19L1843.78 608.6L1844.78 608.6L1846.98 621.06M1848.75 620.69L1850.95 603.59L1851.95 603.59L1854.15 623.75M1854.72 624.83L1856.92 605.02L1857.92 605.02L1860.12 636.66M1867.27 636.7L1869.47 625.92L1870.47 625.92L1872.67 631.24M1874.43 630.78L1876.63 599.4L1877.63 599.4L1879.83 633.44M1883.87 631.3L1886.07 620.55L1887.07 620.55L1889.27 629.02M1891.87 627.55L1894.07 601.67L1895.07 601.67L1897.27 627.1M1904.18 626.38L1906.38 607.65L1907.38 607.65L1909.58 627.36M1910.75 628.53L1912.95 611.59L1913.95 611.59L1916.15 633.09M1918.51 636.24L1920.71 611.59L1921.71 611.59L1923.91 639M1928.07 631.58L1930.27 600.6L1931.27 600.6L1933.47 621.16M1940.61 619.52L1942.81 603.59L1943.81 603.59L1946.01 628.32M1953.75 634.85L1955.95 579.34L1956.95 579.34L1959.15 636.07M1962.11 636.09L1964.31 626.76L1965.31 626.76L1967.51 635.43M1967.49 635.48L1969.69 608.01L1970.69 608.01L1972.89 623.96M1972.86 623.98L1975.06 600.6L1976.06 600.6L1978.26 625.9M1985.76 632.23L1987.96 601.67L1988.96 601.67L1991.16 634.88M1996.16 639.06L1998.36 609.56L1999.36 609.56L2001.56 639.16M2005.71 635.08L2007.91 628.55L2008.91 628.55L2011.11 638.4M2012.28 637.81L2014.48 607.41L2015.48 607.41L2017.68 632.53M2017.9 632.52L2020.1 597.61L2021.1 597.61L2023.3 629.67M2023.63 629.68L2025.83 608.6L2026.83 608.6L2029.03 635.15M2034.62 633.42L2036.82 586.74L2037.82 586.74L2040.02 626.76M2045.37 621.18L2047.57 582.56L2048.57 582.56L2050.77 617.55M2055.29 619.03L2057.49 594.87L2058.49 594.87L2060.69 617.97M2060.66 617.96L2062.86 592.72L2063.86 592.72L2066.06 617.42M2069.26 615.8L2071.46 584.47L2072.46 584.47L2074.66 613.45M2077.39 613.11L2079.59 592.72L2080.59 592.72L2082.79 615.39M2086.34 617.25L2088.54 593.67L2089.54 593.67L2091.74 620.44M2098.89 620.67L2101.09 590.68L2102.09 590.68L2104.29 617.79M2104.86 617.55L2107.06 601.67L2108.06 601.67L2110.26 617.68M2110.83 617.66L2113.03 606.81L2114.03 606.81L2116.23 622.23M2118.24 624.09L2120.44 591.64L2121.44 591.64L2123.64 629.17M2131.14 632.05L2133.34 603.59L2134.34 603.59L2136.54 632.55M2146.07 634.75L2148.27 610.63L2149.27 610.63L2151.47 635.42M2156.22 636.04L2158.42 624.73L2159.42 624.73L2161.62 635.03M2165.06 632.57L2167.26 612.54L2168.26 612.54L2170.46 632.3M2173.43 632.43L2175.63 621.74L2176.63 621.74L2178.83 632.53M2182.39 630.11L2184.59 610.63L2185.59 610.63L2187.79 626.65M2197.32 633.85L2199.52 606.57L2200.52 606.57L2202.72 633.34M2205.68 631.38L2207.88 610.63L2208.88 610.63L2211.08 625M2214.64 621.53L2216.84 605.62L2217.84 605.62L2220.04 622.37M2224.19 625.75L2226.39 614.58L2227.39 614.58L2229.59 624.2M2231.96 622.32L2234.16 609.56L2235.16 609.56L2237.36 623.54M2242.35 626.73L2244.55 593.43L2245.55 593.43L2247.75 627.85M2248.08 627.68L2250.28 604.66L2251.28 604.66L2253.48 628.69M2253.46 628.69L2255.66 614.58L2256.66 614.58L2258.86 628.15M2262.42 628.11L2264.62 610.39L2265.62 610.39L2267.82 627.56M2268.39 628.03L2270.59 604.66L2271.59 604.66L2273.79 636.38M2280.34 635.59L2282.54 607.65L2283.54 607.65L2285.74 627.68M2288.7 626.23L2290.9 609.56L2291.9 609.56L2294.1 628.79M2294.07 628.75L2296.27 608.6L2297.27 608.6L2299.47 639.41M2302.44 637.84L2304.64 613.62L2305.64 613.62L2307.84 632.03M2312.59 634.56L2314.79 608.6L2315.79 608.6L2317.99 636.44M2322.74 635.65L2324.94 625.92L2325.94 625.92L2328.14 632.01M2329.31 631.33L2331.51 621.74L2332.51 621.74L2334.71 630.91M2338.27 633.85L2340.47 615.53L2341.47 615.53L2343.67 641.26M2349.62 646.56L2351.82 634.88L2352.82 634.88L2355.02 646.8M2354.4 647.31L2356.6 617.56L2357.6 617.56L2359.8 639.49M2363.96 632.75L2366.16 603.59L2367.16 603.59L2369.36 626.48M2371.72 625.05L2373.92 606.81L2374.92 606.81L2377.12 624.82M2378.29 624.5L2380.49 607.65L2381.49 607.65L2383.69 622.43M2388.44 624.04L2390.64 607.65L2391.64 607.65L2393.84 632M2398 640.2L2400.2 633.09L2401.2 633.09L2403.4 653.95M212.83 623.79L215.03 638.27L216.03 638.27L218.23 624.11M221.79 625.41L223.99 645.8L224.99 645.8L227.19 631.7M227.76 632.29L229.96 677.1L230.96 677.1L233.16 635.44M239.11 620.16L241.31 624.9L242.31 624.9L244.51 611.86M245.08 612.33L247.28 630.27L248.28 630.27L250.48 616.67M255.59 621.6L257.79 655.36L258.79 655.36L260.99 625.25M259.65 626.2L261.85 639.83L262.85 639.83L265.05 619.51M276.98 623.78L279.18 666.35L280.18 666.35L282.38 627.62M287.49 631.69L289.69 652.97L290.69 652.97L292.89 637.6M298.6 645.95L300.8 667.06L301.8 667.06L304 642.84M306.24 639.81L308.44 655.12L309.44 655.12L311.64 628.95M317.59 623.53L319.79 677.1L320.79 677.1L322.99 622.88M329.3 626.98L331.5 664.32L332.5 664.32L334.7 626.99M334.67 627L336.87 654.16L337.87 654.16L340.07 625.3M345.42 628.58L347.62 649.15L348.62 649.15L350.82 637.2M354.38 641.76L356.58 657.75L357.58 657.75L359.78 645.51M360.35 645.24L362.55 669.09L363.55 669.09L365.75 636.57M366.92 632.96L369.12 635.65L370.12 635.65L372.32 617.31M379.47 611.73L381.67 642.22L382.67 642.22L384.87 618.41M390.82 622.37L393.02 645.2L394.02 645.2L396.22 625.84M400.97 625.67L403.17 645.2L404.17 645.2L406.37 623.03M413.51 623.82L415.71 641.26L416.71 641.26L418.91 628.85M421.87 632.03L424.07 639.23L425.07 639.23L427.27 636.11M429.04 635.39L431.24 639.83L432.24 639.83L434.44 633.36M433.22 632.78L435.42 660.73L436.42 660.73L438.62 639.94M439.43 640.37L441.63 675.07L442.63 675.07L444.83 637.69M447.79 635.3L449.99 666.35L450.99 666.35L453.19 631.34M457.71 631.25L459.91 649.38L460.91 649.38L463.11 635.8M464.88 635.93L467.08 670.29L468.08 670.29L470.28 635.63M473.24 634.66L475.44 648.19L476.44 648.19L478.64 633.39M480.29 632.62L482.49 649.15L483.49 649.15L485.69 628M491.63 626.62L493.83 638.63L494.83 638.63L497.03 631.34M500 630.94L502.2 642.22L503.2 642.22L505.4 631.07M505.73 630.97L507.93 667.06L508.93 667.06L511.13 626.33M518.51 621.52L520.71 645.2L521.71 645.2L523.91 623.45M527.47 624.76L529.67 633.26L530.67 633.26L532.87 622.3M550.41 629.91L552.61 652.97L553.61 652.97L555.81 636.58M559.13 637.72L561.33 662.28L562.33 662.28L564.53 637M576.45 628.02L578.65 658.1L579.65 658.1L581.85 627.07M589.23 622.79L591.43 671.12L592.43 671.12L594.63 620.27M602.13 622.18L604.33 646.99L605.33 646.99L607.53 625.24M618.85 625.56L621.05 652.13L622.05 652.13L624.25 632.08M627.57 634.02L629.77 652.13L630.77 652.13L632.97 634.39M649.31 629.37L651.51 665.27L652.51 665.27L654.71 632.56M663.65 638.02L665.85 645.8L666.85 645.8L669.05 639.04M670.22 638.25L672.42 665.27L673.42 665.27L675.62 633.81M680.37 630.5L682.57 642.22L683.57 642.22L685.77 631.91M686.34 632.68L688.54 658.34L689.54 658.34L691.74 639.2M694.11 639.62L696.31 661.33L697.31 661.33L699.51 637.44M702.47 636.55L704.67 665.27L705.67 665.27L707.87 634.46M719.43 636.79L721.63 664.08L722.63 664.08L724.83 632.96M731.14 632.14L733.34 646.99L734.34 646.99L736.54 633.34M736.52 633.33L738.72 665.27L739.72 665.27L741.92 636.14M752.04 625.47L754.24 661.33L755.24 661.33L757.44 626.54M759.69 625.45L761.89 649.15L762.89 649.15L765.09 630.15M766.26 632.16L768.46 649.15L769.46 649.15L771.66 642.11M773.19 642.03L775.39 663.12L776.39 663.12L778.59 639M782.39 635.91L784.59 648.19L785.59 648.19L787.79 630.96M794.33 629.61L796.53 641.26L797.53 641.26L799.73 632.23M800.9 632.42L803.1 641.26L804.1 641.26L806.3 630.18M815.83 628.07L818.03 646.99L819.03 646.99L821.23 623.54M828.73 631L830.93 672.32L831.93 672.32L834.13 638.66M837.1 641.87L839.3 659.3L840.3 659.3L842.5 640.32M854.65 636.25L856.85 655.36L857.85 655.36L860.05 634.13M867.2 631.87L869.4 651.18L870.4 651.18L872.6 630.47M877.95 629.03L880.15 669.09L881.15 669.09L883.35 631.51M897.06 630.48L899.26 646.99L900.26 646.99L902.46 631.23M916.17 628.73L918.37 641.26L919.37 641.26L921.57 622.59M937.68 626.11L939.88 657.15L940.88 657.15L943.08 630.43M952.01 631.74L954.21 654.16L955.21 654.16L957.41 636.54M959.18 637.28L961.38 653.21L962.38 653.21L964.58 637.01M967.54 636.45L969.74 666.35L970.74 666.35L972.94 631.95M983.07 634.28L985.27 642.81L986.27 642.81L988.47 638.42M992.03 638.33L994.23 644.01L995.23 644.01L997.43 637.73M999.43 635.48L1001.63 661.33L1002.63 661.33L1004.83 628.46M1014.72 627.66L1016.92 649.15L1017.92 649.15L1020.12 629.24M1026.07 624.89L1028.27 644.01L1029.27 644.01L1031.47 624.13M1036.22 634.31L1038.42 673.87L1039.42 673.87L1041.62 646.03M1039.09 641.52L1041.29 673.87L1042.29 673.87L1044.49 642.94M1048.05 636.83L1050.25 645.2L1051.25 645.2L1053.45 628.55M1060.59 623.24L1062.79 645.8L1063.79 645.8L1065.99 629.8M1064.18 627.67L1066.38 649.98L1067.38 649.98L1069.58 634.61M1070.75 636.14L1072.95 678.29L1073.95 678.29L1076.15 643.05M1078.51 645.23L1080.71 653.56L1081.71 653.56L1083.91 635.97M1087.47 630.67L1089.67 649.15L1090.67 649.15L1092.87 625.86M1095.83 624.96L1098.03 655.95L1099.03 655.95L1101.23 626.9M1104.79 627.08L1106.99 665.27L1107.99 665.27L1110.19 625.27M1117.57 628.39L1119.77 655.95L1120.77 655.95L1122.97 628.64M1134.65 626.86L1136.85 639.23L1137.85 639.23L1140.05 627.03M1148.99 633.32L1151.19 656.19L1152.19 656.19L1154.39 633.27M1156.75 632.9L1158.95 646.99L1159.95 646.99L1162.15 627.54M1170.49 622.16L1172.69 640.19L1173.69 640.19L1175.89 622.79M1180.64 622.24L1182.84 636.24L1183.84 636.24L1186.04 622.86M1187.81 625.01L1190.01 655.36L1191.01 655.36L1193.21 630.37M1200.35 622.23L1202.55 656.19L1203.55 656.19L1205.75 617.8M1220.06 626.83L1222.26 645.2L1223.26 645.2L1225.46 629.7M1230.22 629.87L1232.42 675.31L1233.42 675.31L1235.62 627.16M1247.54 630.34L1249.74 661.33L1250.74 661.33L1252.94 634.93M1260.08 637.31L1262.28 657.15L1263.28 657.15L1265.48 637.28M1267.25 637.29L1269.45 681.28L1270.45 681.28L1272.65 633.55M1283.97 621.36L1286.17 670.29L1287.17 670.29L1289.37 625.34M1295.32 628.81L1297.52 643.17L1298.52 643.17L1300.72 631.22M1305.47 633.03L1307.67 675.31L1308.67 675.31L1310.87 632.24M1322.68 622.54L1324.88 662.28L1325.88 662.28L1328.08 623.29M1339.4 627.1L1341.6 657.15L1342.6 657.15L1344.8 634.79M1347.16 637.65L1349.36 655.36L1350.36 655.36L1352.56 638.42M1354.57 640.16L1356.77 681.28L1357.77 681.28L1359.97 648.16M1362.69 647.91L1364.89 676.86L1365.89 676.86L1368.09 639.1M1374.64 629.39L1376.84 644.37L1377.84 644.37L1380.04 624.12M1388.38 623.15L1390.58 638.04L1391.58 638.04L1393.78 625.88M1395.54 626.39L1397.74 654.16L1398.74 654.16L1400.94 627.04M1405.93 631.15L1408.13 672.32L1409.13 672.32L1411.33 632.96M1418.84 623.34L1421.04 634.45L1422.04 634.45L1424.24 616.97M1429.59 620.72L1431.79 655.36L1432.79 655.36L1434.99 630.6M1437.95 633.98L1440.15 661.33L1441.15 661.33L1443.35 639.47M1451.09 633.93L1453.29 649.98L1454.29 649.98L1456.49 628.61M1460.05 626.03L1462.25 636.24L1463.25 636.24L1465.45 626.33M1468.41 626.18L1470.61 641.26L1471.61 641.26L1473.81 620.76M1476.77 617.99L1478.97 632.06L1479.97 632.06L1482.17 620.54M1485.73 623.28L1487.93 654.16L1488.93 654.16L1491.13 625.2M1504.48 624.7L1506.68 645.2L1507.68 645.2L1509.88 621.72M1519.18 618.31L1521.38 645.2L1522.38 645.2L1524.58 622.58M1536.5 623.78L1538.7 641.26L1539.7 641.26L1541.9 626.09M1544.86 626.73L1547.06 649.15L1548.06 649.15L1550.26 627.44M1552.62 627.81L1554.82 644.01L1555.82 644.01L1558.02 622.43M1568.75 620.04L1570.95 649.98L1571.95 649.98L1574.15 617.09M1581.89 627.33L1584.09 648.19L1585.09 648.19L1587.29 629.21M1594.43 630.78L1596.63 645.2L1597.63 645.2L1599.83 633.27M1600.29 633.24L1602.49 639.23L1603.49 639.23L1605.69 630.32M1611.04 630.8L1613.24 642.22L1614.24 642.22L1616.44 634.31M1617.61 633.16L1619.81 649.15L1620.81 649.15L1623.01 625.57M1628.6 626.6L1630.8 641.26L1631.8 641.26L1634 632.49M1643.29 625.61L1645.49 641.26L1646.49 641.26L1648.69 624.98M1655.83 627.79L1658.03 658.1L1659.03 658.1L1661.23 629.36M1673.15 628.62L1675.35 662.28L1676.35 662.28L1678.55 626.31M1689.28 642.91L1691.48 669.09L1692.48 669.09L1694.68 644.44M1696.69 644.66L1698.89 674.23L1699.89 674.23L1702.09 635.36M1721.53 629.14L1723.73 639.23L1724.73 639.23L1726.93 628.65M1728.7 627.79L1730.9 663.36L1731.9 663.36L1734.1 623.73M1743.63 615.72L1745.83 638.04L1746.83 638.04L1749.03 612.18M1758.56 619.87L1760.76 641.26L1761.76 641.26L1763.96 622.85M1786.63 629.05L1788.83 663.12L1789.83 663.12L1792.03 622M1808.73 617.18L1810.93 656.19L1811.93 656.19L1814.13 616.84M1820.68 616.93L1822.88 641.62L1823.88 641.62L1826.08 622.47M1829.64 623.74L1831.84 646.16L1832.84 646.16L1835.04 624.22M1843.38 622.2L1845.58 633.26L1846.58 633.26L1848.78 620.69M1849.35 620.63L1851.55 645.2L1852.55 645.2L1854.75 624.9M1856.52 629.39L1858.72 658.1L1859.72 658.1L1861.92 640.26M1865.47 638.52L1867.67 642.22L1868.67 642.22L1870.87 633.05M1876.22 631.66L1878.42 645.8L1879.42 645.8L1881.62 633.06M1879.69 633.37L1881.89 645.8L1882.89 645.8L1885.09 630.67M1885.66 630.41L1887.86 638.04L1888.86 638.04L1891.06 628.15M1893.43 627.38L1895.63 641.26L1896.63 641.26L1898.83 626.98M1902.39 626.58L1904.59 639.83L1905.59 639.83L1907.79 625.98M1908.36 626.21L1910.56 651.18L1911.56 651.18L1913.76 631.58M1913.14 631.05L1915.34 658.34L1916.34 658.34L1918.54 636.29M1919.71 637.67L1921.91 666.11L1922.91 666.11L1925.11 637.73M1928.07 631.58L1930.27 638.63L1931.27 638.63L1933.47 621.16M1947.18 629.46L1949.38 689.04L1950.38 689.04L1952.58 633.94M1957.93 636.05L1960.13 658.1L1961.13 658.1L1963.33 636M1970.47 629.28L1972.67 660.13L1973.67 660.13L1975.87 625.03M1981.82 630.46L1984.02 648.19L1985.02 648.19L1987.22 632.76M1991.98 635.46L1994.18 663.12L1995.18 663.12L1997.38 640.29M2000.34 640.34L2002.54 658.34L2003.54 658.34L2005.74 635.06M2011.09 638.38L2013.29 663.12L2014.29 663.12L2016.49 633.7M2020.05 632.03L2022.25 661.09L2023.25 661.09L2025.45 631.18M2030.8 637.66L2033 644.01L2034 644.01L2036.2 631.66M2041.19 625.02L2043.39 671.24L2044.39 671.24L2046.59 620.36M2054.09 618.99L2056.29 669.09L2057.29 669.09L2059.49 618.19M2066.04 617.43L2068.24 641.62L2069.24 641.62L2071.44 614.45M2073.8 613.62L2076 632.06L2077 632.06L2079.2 613.81M2083.96 615.95L2086.16 639.23L2087.16 639.23L2089.36 619.02M2094.71 622.06L2096.91 641.26L2097.91 641.26L2100.11 620.27M2102.47 619.33L2104.67 633.85L2105.67 633.85L2107.87 617.62M2114.42 620.36L2116.62 640.42L2117.62 640.42L2119.82 625.55M2120.99 626.65L2123.19 649.98L2124.19 649.98L2126.39 632.06M2126.96 632.39L2129.16 651.18L2130.16 651.18L2132.36 631.98M2139.5 633.96L2141.7 682.23L2142.7 682.23L2144.9 634.81M2150.85 635.27L2153.05 640.19L2154.05 640.19L2156.25 636.03M2156.22 636.04L2158.42 644.61L2159.42 644.61L2161.62 635.03M2159.09 636.13L2161.29 645.2L2162.29 645.2L2164.49 632.87M2170.44 632.29L2172.64 644.01L2173.64 644.01L2175.84 633.2M2178.2 632.91L2180.4 658.34L2181.4 658.34L2183.6 629.21M2193.14 631.27L2195.34 649.15L2196.34 649.15L2198.54 634.6M2200.3 634.66L2202.5 648.19L2203.5 648.19L2205.7 631.36M2220.01 622.34L2222.21 639.23L2223.21 639.23L2225.41 626.59M2226.58 626.53L2228.78 639.23L2229.78 639.23L2231.98 622.3M2239.72 625.62L2241.92 656.19L2242.92 656.19L2245.12 627.73M2248.68 627.8L2250.88 660.13L2251.88 660.13L2254.08 628.68M2265.76 627.68L2267.96 659.3L2268.96 659.3L2271.16 632.73M2285.71 627.7L2287.91 641.26L2288.91 641.26L2291.11 626.09M2293.48 628.16L2295.68 660.73L2296.68 660.73L2298.88 638.23M2300.64 639.82L2302.84 663.12L2303.84 663.12L2306.04 633.69M2307.81 632.03L2310.01 648.19L2311.01 648.19L2313.21 635.1M2314.98 635.99L2317.18 667.3L2318.18 667.3L2320.38 636.81M2334.09 630.68L2336.29 651.18L2337.29 651.18L2339.49 635.64M2344.25 641.97L2346.45 663.12L2347.45 663.12L2349.65 646.57M2368.49 627.48L2370.69 677.22L2371.69 677.22L2373.89 624.96M2383.07 622.69L2385.27 641.26L2386.27 641.26L2388.47 624.07M2393.82 631.96L2396.02 673.27L2397.02 673.27L2399.22 643.3" stroke-linecap="round"/>
</g>
<text class="t" transform="translate(187.8 801.6) scale(1.069 1)">0</text>
<text class="t" transform="translate(574.85 801.6) scale(1.069 1)">200</text>
<text class="t" transform="translate(1003.77 801.6) scale(1.069 1)">400</text>
<text class="t" transform="translate(1430.57 801.6) scale(1.069 1)">600</text>
<text class="t" transform="translate(1858.62 801.6) scale(1.069 1)">800</text>
<text class="t" transform="translate(2263.93 801.6) scale(1.069 1)">1000</text>
<text class="t" transform="translate(76.58 602.4) scale(1.069 1)">0.5</text>
<text class="t" transform="translate(138.5 659.4) scale(1.069 1)">0</text>
<text class="t" transform="translate(46.88 716.4) scale(1.069 1)">-0.5</text>
<text class="h" transform="translate(1036.64 509.8) scale(0.9943 1)">Measurement</text>
<clipPath id="c2"><rect x="211.0" y="953.3" width="2192" height="143.9"/></clipPath>
<rect x="211.0" y="953.3" width="2192" height="143.9" fill="none" stroke="#262626" stroke-width="3.8" stroke-linejoin="miter"/>
<path d="M478.5 1097.2V1073.3M478.5 953.3V977.2M746 1097.2V1073.3M746 953.3V977.2M1013.5 1097.2V1073.3M1013.5 953.3V977.2M1281 1097.2V1073.3M1281 953.3V977.2M1548.5 1097.2V1073.3M1548.5 953.3V977.2M1816 1097.2V1073.3M1816 953.3V977.2M2083.5 1097.2V1073.3M2083.5 953.3V977.2M2351 1097.2V1073.3M2351 953.3V977.2M211 962.21H234.9M2403 962.21H2379.1M211 1015.45H234.9M2403 1015.45H2379.1M211 1068.69H234.9M2403 1068.69H2379.1" fill="none" stroke="#262626" stroke-width="3.8" stroke-linecap="butt"/>
<g clip-path="url(#c2)" fill="none" stroke="#0072BD" stroke-width="7.0" stroke-linejoin="round" stroke-linecap="butt">
<path d="M211.5 1015.45H2405.0M265.21 1015.45L265.31 1049.17L266.51 1049.17L266.61 1015.45M306.3 1015.45L306.4 972.34L307.6 972.34L307.7 1015.45M342.38 1015.45L342.48 1005.36L343.68 1005.36L343.78 1015.45M344.95 1015.45L345.05 985.27L346.25 985.27L346.35 1015.45M345.49 1015.45L345.59 994.48L346.79 994.48L346.89 1015.45M372.34 1015.45L372.44 968.37L373.64 968.37L373.74 1015.45M377.46 1015.45L377.56 1022.42L378.76 1022.42L378.86 1015.45M421.36 1015.45L421.46 1024.22L422.66 1024.22L422.76 1015.45M461.67 1015.45L461.77 1014.32L462.97 1014.32L463.07 1015.45M520.9 1015.45L521 983.35L522.2 983.35L522.3 1015.45M521.8 1015.45L521.9 991.92L523.1 991.92L523.2 1015.45M524.61 1015.45L524.71 1002.42L525.91 1002.42L526.01 1015.45M528.57 1015.45L528.67 1042.26L529.87 1042.26L529.97 1015.45M534.33 1015.45L534.43 1038.93L535.63 1038.93L535.73 1015.45M534.87 1015.45L534.97 1025.24L536.17 1025.24L536.27 1015.45M551.61 1015.45L551.71 1025.24L552.91 1025.24L553.01 1015.45M626.74 1015.45L626.84 1022.04L628.04 1022.04L628.14 1015.45M656.31 1015.45L656.41 1028.44L657.61 1028.44L657.71 1015.45M682.54 1015.45L682.64 1011.38L683.84 1011.38L683.94 1015.45M707.12 1015.45L707.22 1029.34L708.42 1029.34L708.52 1015.45M712.88 1015.45L712.98 991.28L714.18 991.28L714.28 1015.45M734.89 1015.45L734.99 991.28L736.19 991.28L736.29 1015.45M742.31 1015.45L742.41 1021.14L743.61 1021.14L743.71 1015.45M755.37 1015.45L755.47 994.48L756.67 994.48L756.77 1015.45M772.39 1015.45L772.49 1013.43L773.69 1013.43L773.79 1015.45M782.34 1015.45L782.44 1050.2L783.64 1050.2L783.74 1015.45M799.23 1015.45L799.33 1067.09L800.53 1067.09L800.63 1015.45M831.87 1015.45L831.97 1060.05L833.17 1060.05L833.27 1015.45M864.89 1015.45L864.99 1004.47L866.19 1004.47L866.29 1015.45M901.75 1015.45L901.85 1027.42L903.05 1027.42L903.15 1015.45M905.2 1015.45L905.3 994.48L906.5 994.48L906.6 1015.45M908.66 1015.45L908.76 1011.38L909.96 1011.38L910.06 1015.45M923.38 1015.45L923.48 987.44L924.68 987.44L924.78 1015.45M927.35 1015.45L927.45 1031.26L928.65 1031.26L928.75 1015.45M936.18 1015.45L936.28 1022.04L937.48 1022.04L937.58 1015.45M969.2 1015.45L969.3 1002.42L970.5 1002.42L970.6 1015.45M1008.87 1015.45L1008.97 1035.1L1010.17 1035.1L1010.27 1015.45M1031.27 1015.45L1031.37 1021.14L1032.57 1021.14L1032.67 1015.45M1032.93 1015.45L1033.03 992.31L1034.23 992.31L1034.33 1015.45M1039.59 1015.45L1039.69 1005.62L1040.89 1005.62L1040.99 1015.45M1043.69 1015.45L1043.79 1074.13L1044.99 1074.13L1045.09 1015.45M1044.68 1015.45L1044.78 1027.42L1045.98 1027.42L1046.08 1015.45M1054.91 1015.45L1055.01 1031.26L1056.21 1031.26L1056.31 1015.45M1056.83 1015.45L1056.93 1008.56L1058.13 1008.56L1058.23 1015.45M1061.06 1015.45L1061.16 1018.2L1062.36 1018.2L1062.46 1015.45M1065.79 1015.45L1065.89 1006.39L1067.09 1006.39L1067.19 1015.45M1088.19 1015.45L1088.29 1001.52L1089.49 1001.52L1089.59 1015.45M1102.91 1015.45L1103.01 1018.46L1104.21 1018.46L1104.31 1015.45M1127.99 1015.45L1128.09 1026.14L1129.29 1026.14L1129.39 1015.45M1139.13 1015.45L1139.23 1024.34L1140.43 1024.34L1140.53 1015.45M1147.83 1015.45L1147.93 1001.4L1149.13 1001.4L1149.23 1015.45M1154.1 1015.45L1154.2 1010.48L1155.4 1010.48L1155.5 1015.45M1172.41 1015.45L1172.51 1027.42L1173.71 1027.42L1173.81 1015.45M1178.81 1015.45L1178.91 1054.29L1180.11 1054.29L1180.21 1015.45M1190.32 1015.45L1190.42 1012.4L1191.62 1012.4L1191.72 1015.45M1190.96 1015.45L1191.06 1048.28L1192.26 1048.28L1192.36 1015.45M1206.71 1015.45L1206.81 1010.48L1208.01 1010.48L1208.11 1015.45M1218.48 1015.45L1218.58 981.43L1219.78 981.43L1219.88 1015.45M1230.26 1015.45L1230.36 1010.48L1231.56 1010.48L1231.66 1015.45M1233.84 1015.45L1233.94 1026.26L1235.14 1026.26L1235.24 1015.45M1244.33 1015.45L1244.43 1027.42L1245.63 1027.42L1245.73 1015.45M1267.37 1015.45L1267.47 959.42L1268.67 959.42L1268.77 1015.45M1311.53 1015.45L1311.63 1052.37L1312.83 1052.37L1312.93 1015.45M1338.11 1015.45L1338.21 1053.14L1339.41 1053.14L1339.51 1015.45M1341.31 1015.45L1341.41 972.34L1342.61 972.34L1342.71 1015.45M1359.87 1015.45L1359.97 975.54L1361.17 975.54L1361.27 1015.45M1361.15 1015.45L1361.25 1024.34L1362.45 1024.34L1362.55 1015.45M1407.87 1015.45L1407.97 1037.4L1409.17 1037.4L1409.27 1015.45M1411.07 1015.45L1411.17 1017.56L1412.37 1017.56L1412.47 1015.45M1438.58 1015.45L1438.68 993.46L1439.88 993.46L1439.98 1015.45M1446.9 1015.45L1447 968.37L1448.2 968.37L1448.3 1015.45M1456.63 1015.45L1456.73 1022.3L1457.93 1022.3L1458.03 1015.45M1486.58 1015.45L1486.68 1004.34L1487.88 1004.34L1487.98 1015.45M1504.88 1015.45L1504.98 981.3L1506.18 981.3L1506.28 1015.45M1512.82 1015.45L1512.92 1046.36L1514.12 1046.36L1514.22 1015.45M1518.32 1015.45L1518.42 1043.16L1519.62 1043.16L1519.72 1015.45M1520.5 1015.45L1520.6 1019.48L1521.8 1019.48L1521.9 1015.45M1533.93 1015.45L1534.03 1009.46L1535.23 1009.46L1535.33 1015.45M1547.12 1015.45L1547.22 1032.28L1548.42 1032.28L1548.52 1015.45M1556.71 1015.45L1556.81 1060.18L1558.01 1060.18L1558.11 1015.45M1562.47 1015.45L1562.57 994.48L1563.77 994.48L1563.87 1015.45M1567.59 1015.45L1567.69 1036.12L1568.89 1036.12L1568.99 1015.45M1588.46 1015.45L1588.56 1031.26L1589.76 1031.26L1589.86 1015.45M1662.01 1015.45L1662.11 1051.22L1663.31 1051.22L1663.41 1015.45M1684.15 1015.45L1684.25 1023.32L1685.45 1023.32L1685.55 1015.45M1755.06 1015.45L1755.16 1012.4L1756.36 1012.4L1756.46 1015.45M1763.12 1015.45L1763.22 1019.48L1764.42 1019.48L1764.52 1015.45M1777.84 1015.45L1777.94 1090.26L1779.14 1090.26L1779.24 1015.45M1780.14 1015.45L1780.24 1004.47L1781.44 1004.47L1781.54 1015.45M1808.56 1015.45L1808.66 1031.26L1809.86 1031.26L1809.96 1015.45M1823.53 1015.45L1823.63 1051.22L1824.83 1051.22L1824.93 1015.45M1825.46 1015.45L1825.56 1023.96L1826.76 1023.96L1826.86 1015.45M1835.43 1015.45L1835.53 1004.72L1836.73 1004.72L1836.83 1015.45M1853.74 1015.45L1853.84 982.71L1855.04 982.71L1855.14 1015.45M1874.47 1015.45L1874.57 1049.17L1875.77 1049.17L1875.87 1015.45M1879.85 1015.45L1879.95 1006.39L1881.15 1006.39L1881.25 1015.45M1880.87 1015.45L1880.97 1029.34L1882.17 1029.34L1882.27 1015.45M1887.27 1015.45L1887.37 1019.22L1888.57 1019.22L1888.67 1015.45M1910.66 1015.45L1910.76 1029.98L1911.96 1029.98L1912.06 1015.45M1915.14 1015.45L1915.24 1007.54L1916.44 1007.54L1916.54 1015.45M1940.35 1015.45L1940.45 1051.22L1941.65 1051.22L1941.75 1015.45M1950.97 1015.45L1951.07 1005.62L1952.27 1005.62L1952.37 1015.45M1998.33 1015.45L1998.43 1004.47L1999.63 1004.47L1999.73 1015.45M2000.5 1015.45L2000.6 1028.06L2001.8 1028.06L2001.9 1015.45M2029.3 1015.45L2029.4 989.36L2030.6 989.36L2030.7 1015.45M2064.88 1015.45L2064.98 1016.54L2066.18 1016.54L2066.28 1015.45M2071.92 1015.45L2072.02 1057.24L2073.22 1057.24L2073.32 1015.45M2152.29 1015.45L2152.39 1003.44L2153.59 1003.44L2153.69 1015.45M2163.69 1015.45L2163.79 997.43L2164.99 997.43L2165.09 1015.45M2177.86 1015.45L2177.96 1018.2L2179.16 1018.2L2179.26 1015.45M2180.8 1015.45L2180.9 990.39L2182.1 990.39L2182.2 1015.45M2189.38 1015.45L2189.48 1051.22L2190.68 1051.22L2190.78 1015.45M2197.7 1015.45L2197.8 963.38L2199 963.38L2199.1 1015.45M2212.16 1015.45L2212.26 964.41L2213.46 964.41L2213.56 1015.45M2241.21 1015.45L2241.31 1060.18L2242.51 1060.18L2242.61 1015.45M2291.38 1015.45L2291.48 1058.26L2292.68 1058.26L2292.78 1015.45M2312.24 1015.45L2312.34 1053.4L2313.54 1053.4L2313.64 1015.45M2314.16 1015.45L2314.26 1006.64L2315.46 1006.64L2315.56 1015.45M2320.31 1015.45L2320.41 1032.28L2321.61 1032.28L2321.71 1015.45M2334.64 1015.45L2334.74 1000.5L2335.94 1000.5L2336.04 1015.45M2357.68 1015.45L2357.78 1024.22L2358.98 1024.22L2359.08 1015.45M2373.93 1015.45L2374.03 1011.38L2375.23 1011.38L2375.33 1015.45"/>
</g>
<text class="t" transform="translate(187.8 1202.8) scale(1.069 1)">0</text>
<text class="t" transform="translate(413.93 1202.8) scale(1.069 1)">500</text>
<text class="t" transform="translate(659.92 1202.8) scale(1.069 1)">1000</text>
<text class="t" transform="translate(927.42 1202.8) scale(1.069 1)">1500</text>
<text class="t" transform="translate(1196.8 1202.8) scale(1.069 1)">2000</text>
<text class="t" transform="translate(1464.3 1202.8) scale(1.069 1)">2500</text>
<text class="t" transform="translate(1731.67 1202.8) scale(1.069 1)">3000</text>
<text class="t" transform="translate(1999.18 1202.8) scale(1.069 1)">3500</text>
<text class="t" transform="translate(2267.93 1202.8) scale(1.069 1)">4000</text>
<text class="t" transform="translate(138.62 992.61) scale(1.069 1)">2</text>
<text class="t" transform="translate(138.5 1045.85) scale(1.069 1)">0</text>
<text class="t" transform="translate(113.68 1099.09) scale(1.069 1)">-2</text>
<text class="h" transform="translate(418.44 915.1) scale(0.9937 1)">PCG (MSE = 1.48e-05, Iter=145, Time=5.50s)</text>
<clipPath id="c3"><rect x="211.0" y="1354.0" width="2193.9" height="149.1"/></clipPath>
<rect x="211.0" y="1354.0" width="2192" height="149.1" fill="none" stroke="#262626" stroke-width="3.8" stroke-linejoin="miter"/>
<path d="M478.5 1503.1V1479.2M478.5 1354V1377.9M746 1503.1V1479.2M746 1354V1377.9M1013.5 1503.1V1479.2M1013.5 1354V1377.9M1281 1503.1V1479.2M1281 1354V1377.9M1548.5 1503.1V1479.2M1548.5 1354V1377.9M1816 1503.1V1479.2M1816 1354V1377.9M2083.5 1503.1V1479.2M2083.5 1354V1377.9M2351 1503.1V1479.2M2351 1354V1377.9M211 1363.5H234.9M2403 1363.5H2379.1M211 1421.3H234.9M2403 1421.3H2379.1M211 1479.1H234.9M2403 1479.1H2379.1" fill="none" stroke="#262626" stroke-width="3.8" stroke-linecap="butt"/>
<g clip-path="url(#c3)" fill="none" stroke="#0072BD" stroke-width="7.0" stroke-linejoin="round" stroke-linecap="butt">
<path d="M211.5 1421.3H2405.0M265.21 1421.3L265.31 1449.38L266.51 1449.38L266.61 1421.3M306.3 1421.3L306.4 1381.51L307.6 1381.51L307.7 1421.3M342.38 1421.3L342.48 1412.61L343.68 1412.61L343.78 1421.3M344.95 1421.3L345.05 1399.43L346.25 1399.43L346.35 1421.3M345.49 1421.3L345.59 1406.21L346.79 1406.21L346.89 1421.3M372.34 1421.3L372.44 1373.58L373.64 1373.58L373.74 1421.3M377.46 1421.3L377.56 1429.29L378.76 1429.29L378.86 1421.3M421.36 1421.3L421.46 1428.27L422.66 1428.27L422.76 1421.3M322.81 1421.3L322.91 1418.37L324.11 1418.37L324.21 1421.3M277.37 1421.3L277.47 1423.53L278.67 1423.53L278.77 1421.3M436.07 1421.3L436.17 1423.53L437.37 1423.53L437.47 1421.3M520.9 1421.3L521 1389.19L522.2 1389.19L522.3 1421.3M521.8 1421.3L521.9 1398.53L523.1 1398.53L523.2 1421.3M524.61 1421.3L524.71 1411.33L525.91 1411.33L526.01 1421.3M528.57 1421.3L528.67 1444.01L529.87 1444.01L529.97 1421.3M534.33 1421.3L534.43 1449.38L535.63 1449.38L535.73 1421.3M534.87 1421.3L534.97 1433.13L536.17 1433.13L536.27 1421.3M551.61 1421.3L551.71 1430.31L552.91 1430.31L553.01 1421.3M561.85 1421.3L561.95 1425.19L563.15 1425.19L563.25 1421.3M609.85 1421.3L609.95 1424.17L611.15 1424.17L611.25 1421.3M626.74 1421.3L626.84 1425.19L628.04 1425.19L628.14 1421.3M656.31 1421.3L656.41 1435.31L657.61 1435.31L657.71 1421.3M707.12 1421.3L707.22 1434.41L708.42 1434.41L708.52 1421.3M712.88 1421.3L712.98 1401.48L714.18 1401.48L714.28 1421.3M734.89 1421.3L734.99 1398.53L736.19 1398.53L736.29 1421.3M742.31 1421.3L742.41 1422.51L743.61 1422.51L743.71 1421.3M755.37 1421.3L755.47 1402.37L756.67 1402.37L756.77 1421.3M772.39 1421.3L772.49 1419.27L773.69 1419.27L773.79 1421.3M782.34 1421.3L782.44 1456.55L783.64 1456.55L783.74 1421.3M799.23 1421.3L799.33 1475.37L800.53 1475.37L800.63 1421.3M831.87 1421.3L831.97 1468.33L833.17 1468.33L833.27 1421.3M807.93 1421.3L808.03 1417.48L809.23 1417.48L809.33 1421.3M864.89 1421.3L864.99 1409.41L866.19 1409.41L866.29 1421.3M901.75 1421.3L901.85 1429.29L903.05 1429.29L903.15 1421.3M905.2 1421.3L905.3 1404.55L906.5 1404.55L906.6 1421.3M923.38 1421.3L923.48 1397.51L924.68 1397.51L924.78 1421.3M927.35 1421.3L927.45 1433.39L928.65 1433.39L928.75 1421.3M936.18 1421.3L936.28 1425.19L937.48 1425.19L937.58 1421.3M969.2 1421.3L969.3 1416.45L970.5 1416.45L970.6 1421.3M1008.87 1421.3L1008.97 1439.27L1010.17 1439.27L1010.27 1421.3M1032.93 1421.3L1033.03 1397.51L1034.23 1397.51L1034.33 1421.3M1039.59 1421.3L1039.69 1416.45L1040.89 1416.45L1040.99 1421.3M1031.27 1421.3L1031.37 1422.51L1032.57 1422.51L1032.67 1421.3M1043.69 1421.3L1043.79 1480.48L1044.99 1480.48L1045.09 1421.3M1044.68 1421.3L1044.78 1433.13L1045.98 1433.13L1046.08 1421.3M1054.91 1421.3L1055.01 1437.23L1056.21 1437.23L1056.31 1421.3M1056.83 1421.3L1056.93 1417.48L1058.13 1417.48L1058.23 1421.3M1065.79 1421.3L1065.89 1418.37L1067.09 1418.37L1067.19 1421.3M1088.19 1421.3L1088.29 1411.59L1089.49 1411.59L1089.59 1421.3M1113.53 1421.3L1113.63 1418.37L1114.83 1418.37L1114.93 1421.3M1127.99 1421.3L1128.09 1429.29L1129.29 1429.29L1129.39 1421.3M1139.13 1421.3L1139.23 1424.55L1140.43 1424.55L1140.53 1421.3M1147.83 1421.3L1147.93 1413.51L1149.13 1413.51L1149.23 1421.3M1154.1 1421.3L1154.2 1416.45L1155.4 1416.45L1155.5 1421.3M1172.41 1421.3L1172.51 1429.29L1173.71 1429.29L1173.81 1421.3M1178.81 1421.3L1178.91 1459.37L1180.11 1459.37L1180.21 1421.3M1190.71 1421.3L1190.81 1450.41L1192.01 1450.41L1192.11 1421.3M1218.48 1421.3L1218.58 1389.32L1219.78 1389.32L1219.88 1421.3M1233.84 1421.3L1233.94 1428.27L1235.14 1428.27L1235.24 1421.3M1244.33 1421.3L1244.43 1430.31L1245.63 1430.31L1245.73 1421.3M1267.37 1421.3L1267.47 1360.52L1268.67 1360.52L1268.77 1421.3M1311.53 1421.3L1311.63 1457.19L1312.83 1457.19L1312.93 1421.3M1338.11 1421.3L1338.21 1456.42L1339.41 1456.42L1339.51 1421.3M1341.31 1421.3L1341.41 1380.62L1342.61 1380.62L1342.71 1421.3M1359.87 1421.3L1359.97 1386.38L1361.17 1386.38L1361.27 1421.3M1361.15 1421.3L1361.25 1425.19L1362.45 1425.19L1362.55 1421.3M1407.87 1421.3L1407.97 1444.26L1409.17 1444.26L1409.27 1421.3M1438.58 1421.3L1438.68 1398.53L1439.88 1398.53L1439.98 1421.3M1446.9 1421.3L1447 1372.68L1448.2 1372.68L1448.3 1421.3M1456.63 1421.3L1456.73 1426.35L1457.93 1426.35L1458.03 1421.3M1486.58 1421.3L1486.68 1413.51L1487.88 1413.51L1487.98 1421.3M1504.88 1421.3L1504.98 1392.39L1506.18 1392.39L1506.28 1421.3M1512.82 1421.3L1512.92 1449.38L1514.12 1449.38L1514.22 1421.3M1518.32 1421.3L1518.42 1445.29L1519.62 1445.29L1519.72 1421.3M1529.2 1421.3L1529.3 1428.27L1530.5 1428.27L1530.6 1421.3M1533.93 1421.3L1534.03 1418.37L1535.23 1418.37L1535.33 1421.3M1547.12 1421.3L1547.22 1440.17L1548.42 1440.17L1548.52 1421.3M1556.71 1421.3L1556.81 1464.23L1558.01 1464.23L1558.11 1421.3M1562.47 1421.3L1562.57 1402.37L1563.77 1402.37L1563.87 1421.3M1567.59 1421.3L1567.69 1438.25L1568.89 1438.25L1568.99 1421.3M1588.46 1421.3L1588.56 1438.25L1589.76 1438.25L1589.86 1421.3M1662.01 1421.3L1662.11 1455.27L1663.31 1455.27L1663.41 1421.3M1684.15 1421.3L1684.25 1429.29L1685.45 1429.29L1685.55 1421.3M1763.12 1421.3L1763.22 1423.53L1764.42 1423.53L1764.52 1421.3M1777.84 1421.3L1777.94 1495.84L1779.14 1495.84L1779.24 1421.3M1780.14 1421.3L1780.24 1415.43L1781.44 1415.43L1781.54 1421.3M1808.56 1421.3L1808.66 1436.33L1809.86 1436.33L1809.96 1421.3M1823.53 1421.3L1823.63 1456.42L1824.83 1456.42L1824.93 1421.3M1825.46 1421.3L1825.56 1429.29L1826.76 1429.29L1826.86 1421.3M1835.43 1421.3L1835.53 1416.45L1836.73 1416.45L1836.83 1421.3M1853.74 1421.3L1853.84 1388.55L1855.04 1388.55L1855.14 1421.3M1874.47 1421.3L1874.57 1449.38L1875.77 1449.38L1875.87 1421.3M1879.85 1421.3L1879.95 1416.45L1881.15 1416.45L1881.25 1421.3M1880.87 1421.3L1880.97 1434.41L1882.17 1434.41L1882.27 1421.3M1910.66 1421.3L1910.76 1433.39L1911.96 1433.39L1912.06 1421.3M1915.14 1421.3L1915.24 1417.48L1916.44 1417.48L1916.54 1421.3M1940.35 1421.3L1940.45 1460.39L1941.65 1460.39L1941.75 1421.3M1950.97 1421.3L1951.07 1414.53L1952.27 1414.53L1952.37 1421.3M1998.33 1421.3L1998.43 1411.59L1999.63 1411.59L1999.73 1421.3M2000.5 1421.3L2000.6 1428.27L2001.8 1428.27L2001.9 1421.3M2029.3 1421.3L2029.4 1398.53L2030.6 1398.53L2030.7 1421.3M2071.92 1421.3L2072.02 1464.23L2073.22 1464.23L2073.32 1421.3M2152.29 1421.3L2152.39 1415.43L2153.59 1415.43L2153.69 1421.3M2163.69 1421.3L2163.79 1404.55L2164.99 1404.55L2165.09 1421.3M2180.8 1421.3L2180.9 1397.51L2182.1 1397.51L2182.2 1421.3M2189.38 1421.3L2189.48 1455.27L2190.68 1455.27L2190.78 1421.3M2195.78 1421.3L2195.88 1424.81L2197.08 1424.81L2197.18 1421.3M2197.7 1421.3L2197.8 1369.48L2199 1369.48L2199.1 1421.3M2212.16 1421.3L2212.26 1370.38L2213.46 1370.38L2213.56 1421.3M2241.21 1421.3L2241.31 1465.38L2242.51 1465.38L2242.61 1421.3M2291.38 1421.3L2291.48 1463.21L2292.68 1463.21L2292.78 1421.3M2312.24 1421.3L2312.34 1456.17L2313.54 1456.17L2313.64 1421.3M2312.88 1421.3L2312.98 1412.61L2314.18 1412.61L2314.28 1421.3M2320.31 1421.3L2320.41 1437.23L2321.61 1437.23L2321.71 1421.3M2334.64 1421.3L2334.74 1407.49L2335.94 1407.49L2336.04 1421.3M2357.68 1421.3L2357.78 1430.31L2358.98 1430.31L2359.08 1421.3M2348.72 1421.3L2348.82 1417.48L2350.02 1417.48L2350.12 1421.3M2373.93 1421.3L2374.03 1417.48L2375.23 1417.48L2375.33 1421.3"/>
<path d="M211.5 1422.15L212.57 1421.07L213.64 1421.32L214.71 1421.5L215.78 1420.91L216.85 1421.3L217.92 1421.3L218.99 1420.42L220.06 1421.81L221.13 1421.6L222.2 1420.99L223.27 1421.21L224.34 1421.55L225.41 1421.17L226.48 1421.18L227.55 1420.57L228.62 1421.58L229.69 1421.36L230.76 1421.44L231.83 1420.54L232.9 1422.13L233.97 1421.38L235.04 1421.11L236.11 1422.31L237.18 1421.28L238.25 1420.57L239.32 1421.1L240.39 1420.16L241.46 1421.82L242.53 1421.09L243.6 1420.93L244.67 1421.84L245.74 1420.47L246.81 1421.57L247.88 1420.27L248.95 1420.97L250.02 1420.7L251.09 1422.03L252.16 1422.18L253.23 1421.14L254.3 1421.72L255.37 1421.21L256.44 1421.58L257.51 1420.92L258.58 1420.45L259.65 1420.4L260.72 1421.49L261.79 1422.42L262.86 1421.43L263.93 1421.04L265 1422.26L266.07 1421.42L267.14 1421.35L268.21 1421.43L269.28 1421.23L270.35 1421.15L271.42 1420.58L272.49 1421.55L273.56 1421.25L274.63 1421.9L275.7 1421.12L276.77 1420.35L277.84 1421.25L278.91 1422.15L279.98 1421.11L281.05 1420.86L282.12 1420.7L283.19 1420.77L284.26 1421.15L285.33 1420.71L286.4 1422.05L287.47 1421.16L288.54 1421.35L289.61 1422.02L290.68 1422.05L291.75 1421.19L292.82 1421.47L293.89 1421.67L294.96 1421.2L296.03 1420.41L297.1 1421.63L298.17 1421.75L299.24 1421.51L300.31 1420.84L301.38 1421.2L302.45 1421L303.52 1421.15L304.59 1421.95L305.66 1422.06L306.73 1421.63L307.8 1421.57L308.87 1421.64L309.94 1421.29L311.01 1421.26L312.08 1420.96L313.15 1421.27L314.22 1422.43L315.29 1421.73L316.36 1421.13L317.43 1421.06L318.5 1420.87L319.57 1421.49L320.64 1421.79L321.71 1420.58L322.78 1421.54L323.85 1421.02L324.92 1422.01L325.99 1421.38L327.06 1422.16L328.13 1421.07L329.2 1421.16L330.27 1421.45L331.34 1421.83L332.41 1421.58L333.48 1420.68L334.55 1421.39L335.62 1421.31L336.69 1421.09L337.76 1420.98L338.83 1422.17L339.9 1421.1L340.97 1420.88L342.04 1421.62L343.11 1421.37L344.18 1421.26L345.25 1421.69L346.32 1421.54L347.39 1421.48L348.46 1421.78L349.53 1421.44L350.6 1420.99L351.67 1421.12L352.74 1421.04L353.81 1421.4L354.88 1420.76L355.95 1420.38L357.02 1421.34L358.09 1420.63L359.16 1420.32L360.23 1421.49L361.3 1420.94L362.37 1421.55L363.44 1421.03L364.51 1420.74L365.58 1420.68L366.65 1421.04L367.72 1421.16L368.79 1420.89L369.86 1421.16L370.93 1420.53L372 1421.31L373.07 1420.4L374.14 1421.2L375.21 1421.65L376.28 1421.85L377.35 1422.16L378.42 1420.52L379.49 1421.68L380.56 1421.9L381.63 1421.79L382.7 1420.84L383.77 1421.51L384.84 1422.23L385.91 1420.55L386.98 1421.54L388.05 1421.86L389.12 1420.95L390.19 1421.59L391.26 1420.76L392.33 1420.89L393.4 1420.89L394.47 1421.4L395.54 1421.25L396.61 1421.78L397.68 1420.83L398.75 1421.23L399.82 1421.78L400.89 1421.58L401.96 1420.64L403.03 1421.63L404.1 1421.06L405.17 1421.49L406.24 1421.45L407.31 1421.91L408.38 1421.36L409.45 1420.37L410.52 1420.62L411.59 1421.67L412.66 1421.17L413.73 1421.87L414.8 1421.44L415.87 1420.93L416.94 1421.84L418.01 1420.9L419.08 1420.27L420.15 1422.33L421.22 1420.34L422.29 1421.62L423.36 1421.77L424.43 1421.37L425.5 1420.46L426.57 1421.81L427.64 1420.58L428.71 1420.63L429.78 1421.12L430.85 1421.69L431.92 1421.45L432.99 1421.71L434.06 1421.08L435.13 1421.21L436.2 1420.73L437.27 1421.14L438.34 1421.6L439.41 1421.15L440.48 1421.54L441.55 1421.01L442.62 1421L443.69 1421.32L444.76 1421.2L445.83 1421.6L446.9 1421.39L447.97 1422.17L449.04 1421.19L450.11 1421.19L451.18 1420.78L452.25 1421.31L453.32 1421.64L454.39 1420.93L455.46 1421.28L456.53 1421.66L457.6 1421.24L458.67 1421.04L459.74 1421.79L460.81 1421.35L461.88 1421.5L462.95 1421.89L464.02 1421.87L465.09 1421.13L466.16 1421.04L467.23 1421.44L468.3 1421.23L469.37 1420.35L470.44 1421.94L471.51 1421.31L472.58 1421.67L473.65 1420.71L474.72 1421.94L475.79 1421.01L476.86 1421.25L477.93 1420.6L479 1421.22L480.07 1421.19L481.14 1421.21L482.21 1421.52L483.28 1421.33L484.35 1421.79L485.42 1421.07L486.49 1420.8L487.56 1421.29L488.63 1421.61L489.7 1421.92L490.77 1422.32L491.84 1420.42L492.91 1421.49L493.98 1423.13L495.05 1421.33L496.12 1421.04L497.19 1421.45L498.26 1421.05L499.33 1421.62L500.4 1421.29L501.47 1422L502.54 1421.55L503.61 1420.94L504.68 1421.6L505.75 1421.77L506.82 1421.02L507.89 1420.77L508.96 1420.15L510.03 1421.75L511.1 1421.01L512.17 1420.24L513.24 1420.42L514.31 1421.19L515.38 1421.68L516.45 1421.26L517.52 1421.54L518.59 1420.75L519.66 1420.63L520.73 1421.74L521.8 1421.55L522.87 1421.28L523.94 1421.94L525.01 1420.82L526.08 1421.09L527.15 1421.81L528.22 1422.22L529.29 1421.3L530.36 1422.14L531.43 1421L532.5 1421.46L533.57 1421.21L534.64 1420.51L535.71 1421.43L536.78 1421.77L537.85 1421.23L538.92 1421.26L539.99 1422L541.06 1420.68L542.13 1420.55L543.2 1420.97L544.27 1420.7L545.34 1421.97L546.41 1421.45L547.48 1420.87L548.55 1420.99L549.62 1422.73L550.69 1420.99L551.76 1420.92L552.83 1421.45L553.9 1422.1L554.97 1421.41L556.04 1420.85L557.11 1420.72L558.18 1421.6L559.25 1421.27L560.32 1420.48L561.39 1421.89L562.46 1421.69L563.53 1421.18L564.6 1421.17L565.67 1421.42L566.74 1420.96L567.81 1420.63L568.88 1421.46L569.95 1420.58L571.02 1421.5L572.09 1420.58L573.16 1421.25L574.23 1421.23L575.3 1422.19L576.37 1420.77L577.44 1420.59L578.51 1420.98L579.58 1420.74L580.65 1421.01L581.72 1421.51L582.79 1421.69L583.86 1422.13L584.93 1420.93L586 1422.62L587.07 1422.29L588.14 1421.2L589.21 1420.15L590.28 1421.26L591.35 1421.34L592.42 1420.15L593.49 1421.34L594.56 1421.2L595.63 1420.91L596.7 1421.61L597.77 1421.8L598.84 1421.06L599.91 1421.41L600.98 1420.97L602.05 1420.91L603.12 1421.34L604.19 1421.56L605.26 1421.02L606.33 1420.19L607.4 1421.59L608.47 1419.3L609.54 1421.36L610.61 1422.19L611.68 1421.29L612.75 1420.71L613.82 1420.57L614.89 1421.89L615.96 1421.29L617.03 1421.57L618.1 1421.76L619.17 1421.28L620.24 1421.15L621.31 1420.83L622.38 1419.76L623.45 1420.54L624.52 1421.27L625.59 1421.21L626.66 1421.5L627.73 1421.24L628.8 1421.38L629.87 1421.69L630.94 1420.86L632.01 1421.16L633.08 1420.5L634.15 1421.79L635.22 1421.32L636.29 1421.54L637.36 1422.07L638.43 1421.84L639.5 1421.27L640.57 1421.69L641.64 1420.58L642.71 1421.52L643.78 1421.37L644.85 1420.49L645.92 1421.97L646.99 1420.95L648.06 1421.64L649.13 1421.09L650.2 1421.8L651.27 1421.96L652.34 1420.88L653.41 1420.53L654.48 1421.23L655.55 1421.72L656.62 1421.11L657.69 1420.99L658.76 1421.54L659.83 1419.92L660.9 1420.47L661.97 1420.61L663.04 1421.45L664.11 1420.93L665.18 1420.74L666.25 1421.12L667.32 1420.57L668.39 1421.29L669.46 1420.96L670.53 1421.11L671.6 1420.94L672.67 1421.76L673.74 1421.25L674.81 1421.56L675.88 1421.54L676.95 1420.9L678.02 1421.58L679.09 1421.47L680.16 1421.46L681.23 1421.1L682.3 1421.09L683.37 1421.69L684.44 1422.39L685.51 1420.88L686.58 1421.57L687.65 1421.12L688.72 1421.69L689.79 1421.52L690.86 1422.63L691.93 1419.9L693 1421L694.07 1420.81L695.14 1421.25L696.21 1420.94L697.28 1420.98L698.35 1421.64L699.42 1422.25L700.49 1419.89L701.56 1421.14L702.63 1421.46L703.7 1421.3L704.77 1421.13L705.84 1420.62L706.91 1420.83L707.98 1421.66L709.05 1421.84L710.12 1421.35L711.19 1420.88L712.26 1421.35L713.33 1421.18L714.4 1421.57L715.47 1421.36L716.54 1420.99L717.61 1421.4L718.68 1420.71L719.75 1421.71L720.82 1421.89L721.89 1420.71L722.96 1421.51L724.03 1420.8L725.1 1421.84L726.17 1421.75L727.24 1421.18L728.31 1421.8L729.38 1421.08L730.45 1420.98L731.52 1421.02L732.59 1421.23L733.66 1421.14L734.73 1421.38L735.8 1420.99L736.87 1421.68L737.94 1421.81L739.01 1420.68L740.08 1420.59L741.15 1421.66L742.22 1421.87L743.29 1421.22L744.36 1420.66L745.43 1421.43L746.5 1422.06L747.57 1420.36L748.64 1421.54L749.71 1421.14L750.78 1420.87L751.85 1421.55L752.92 1420.65L753.99 1421.45L755.06 1421.96L756.13 1421.39L757.2 1420.86L758.27 1420.41L759.34 1420.66L760.41 1420.38L761.48 1422.1L762.55 1421.18L763.62 1420.78L764.69 1420.65L765.76 1420.77L766.83 1421.13L767.9 1420.66L768.97 1422.14L770.04 1420.93L771.11 1420.91L772.18 1421.45L773.25 1422.03L774.32 1421.96L775.39 1421.06L776.46 1421.62L777.53 1421.37L778.6 1421.56L779.67 1421.43L780.74 1420.83L781.81 1420.67L782.88 1421.39L783.95 1420.71L785.02 1421.98L786.09 1421.32L787.16 1420.79L788.23 1421.14L789.3 1421.05L790.37 1421.23L791.44 1421.77L792.51 1420.58L793.58 1420.37L794.65 1421.47L795.72 1421.21L796.79 1421.38L797.86 1421.52L798.93 1421.21L800 1421.7L801.07 1420.85L802.14 1421.33L803.21 1420.88L804.28 1420.74L805.35 1421.61L806.42 1421.58L807.49 1420.33L808.56 1420.74L809.63 1421.45L810.7 1421.84L811.77 1420.97L812.84 1421.21L813.91 1420.59L814.98 1422.56L816.05 1421.54L817.12 1421.75L818.19 1421.63L819.26 1421.77L820.33 1421.6L821.4 1421.13L822.47 1421.67L823.54 1421.34L824.61 1421.95L825.68 1420.93L826.75 1421.03L827.82 1421.63L828.89 1421.94L829.96 1421.37L831.03 1420.94L832.1 1421.24L833.17 1421.05L834.24 1422.25L835.31 1421.75L836.38 1421.93L837.45 1421.45L838.52 1421.02L839.59 1421.89L840.66 1422.13L841.73 1421.59L842.8 1421.27L843.87 1421.84L844.94 1421.11L846.01 1421.68L847.08 1420.94L848.15 1420.81L849.22 1422.01L850.29 1421.47L851.36 1422.25L852.43 1421.16L853.5 1421.31L854.57 1420.73L855.64 1420.37L856.71 1420.41L857.78 1421.53L858.85 1420.71L859.92 1421.86L860.99 1423.08L862.06 1421.16L863.13 1422.13L864.2 1421.41L865.27 1421.86L866.34 1421.19L867.41 1421.78L868.48 1420.83L869.55 1421.61L870.62 1421.07L871.69 1421.23L872.76 1421.62L873.83 1421.39L874.9 1421.26L875.97 1421.66L877.04 1421.7L878.11 1420.61L879.18 1421.58L880.25 1421.64L881.32 1420.92L882.39 1421.49L883.46 1420.64L884.53 1422.02L885.6 1421.18L886.67 1421.26L887.74 1422.8L888.81 1421.23L889.88 1421.6L890.95 1420.78L892.02 1421.02L893.09 1420.6L894.16 1421.2L895.23 1421.82L896.3 1421.41L897.37 1421.74L898.44 1420.79L899.51 1420.86L900.58 1421.07L901.65 1421.59L902.72 1421.48L903.79 1421.29L904.86 1421.61L905.93 1421.11L907 1421.29L908.07 1421.95L909.14 1421.01L910.21 1421.39L911.28 1422.11L912.35 1421.35L913.42 1422.18L914.49 1421L915.56 1422.28L916.63 1420.18L917.7 1420.73L918.77 1420.77L919.84 1422.11L920.91 1421.48L921.98 1421.17L923.05 1420.66L924.12 1421.48L925.19 1421.36L926.26 1420.95L927.33 1420.55L928.4 1420.75L929.47 1421.41L930.54 1421.46L931.61 1421.34L932.68 1421.22L933.75 1420.42L934.82 1421.32L935.89 1420.78L936.96 1421.32L938.03 1421.53L939.1 1420.96L940.17 1420.79L941.24 1421.8L942.31 1421.48L943.38 1420.98L944.45 1419.8L945.52 1421.28L946.59 1421.61L947.66 1421.86L948.73 1420.96L949.8 1420.98L950.87 1421.08L951.94 1421.72L953.01 1420.71L954.08 1421.24L955.15 1420.84L956.22 1421.43L957.29 1420.52L958.36 1421.49L959.43 1421.05L960.5 1421.19L961.57 1421.56L962.64 1421.87L963.71 1420.45L964.78 1421.8L965.85 1421.58L966.92 1421.15L967.99 1422L969.06 1421.39L970.13 1421.95L971.2 1421L972.27 1420.87L973.34 1421.91L974.41 1423.3L975.48 1422.09L976.55 1421.75L977.62 1421.06L978.69 1420.64L979.76 1421.19L980.83 1423.18L981.9 1420.37L982.97 1421.05L984.04 1420.34L985.11 1421.44L986.18 1421.74L987.25 1420.68L988.32 1421.1L989.39 1421.96L990.46 1421.26L991.53 1420.68L992.6 1420.64L993.67 1420.29L994.74 1421.69L995.81 1420.93L996.88 1421.83L997.95 1421.73L999.02 1420.97L1000.09 1421.04L1001.16 1421.69L1002.23 1421.37L1003.3 1421.43L1004.37 1420.48L1005.44 1421.75L1006.51 1420.21L1007.58 1420.17L1008.65 1420.99L1009.72 1421.51L1010.79 1422.35L1011.86 1421.11L1012.93 1420.64L1014 1422.36L1015.07 1421.38L1016.14 1421.17L1017.21 1420.76L1018.28 1420.8L1019.35 1422.04L1020.42 1421.16L1021.49 1421.03L1022.56 1421.05L1023.63 1422.08L1024.7 1421.01L1025.77 1421.61L1026.84 1421.43L1027.91 1421.42L1028.98 1420.86L1030.05 1421.63L1031.12 1422.1L1032.19 1421.27L1033.26 1420.84L1034.33 1420.65L1035.4 1421.4L1036.47 1421.16L1037.54 1421.25L1038.61 1421.31L1039.68 1420.56L1040.75 1421.69L1041.82 1421.42L1042.89 1421.26L1043.96 1421.42L1045.03 1421.76L1046.1 1421.33L1047.17 1420.87L1048.24 1421.88L1049.31 1421.08L1050.38 1420.94L1051.45 1420.52L1052.52 1421.3L1053.59 1420.78L1054.66 1421.04L1055.73 1421.52L1056.8 1421.32L1057.87 1421.81L1058.94 1421.45L1060.01 1421.1L1061.08 1421.14L1062.15 1421.05L1063.22 1421.62L1064.29 1421.31L1065.36 1421.09L1066.43 1421.72L1067.5 1421.35L1068.57 1421.07L1069.64 1420.54L1070.71 1421.52L1071.78 1421.42L1072.85 1421.33L1073.92 1421.08L1074.99 1420.88L1076.06 1421.19L1077.13 1421.42L1078.2 1421.24L1079.27 1421.12L1080.34 1421.07L1081.41 1421.47L1082.48 1421.42L1083.55 1420.92L1084.62 1421.68L1085.69 1421.7L1086.76 1421.71L1087.83 1421.23L1088.9 1421.2L1089.97 1420.72L1091.04 1421.68L1092.11 1420.23L1093.18 1421.1L1094.25 1421.13L1095.32 1421.73L1096.39 1421.3L1097.46 1420.82L1098.53 1420.59L1099.6 1420.94L1100.67 1421.35L1101.74 1421.33L1102.81 1421.2L1103.88 1420.96L1104.95 1421.19L1106.02 1421.8L1107.09 1420.75L1108.16 1421.32L1109.23 1422.11L1110.3 1421.58L1111.37 1421.07L1112.44 1421.63L1113.51 1420.92L1114.58 1421.3L1115.65 1422.08L1116.72 1422.25L1117.79 1420.45L1118.86 1422.18L1119.93 1422.27L1121 1421.03L1122.07 1421.43L1123.14 1422.05L1124.21 1421.05L1125.28 1421.53L1126.35 1421.27L1127.42 1420.34L1128.49 1421.47L1129.56 1421.21L1130.63 1421.76L1131.7 1422.35L1132.77 1421.64L1133.84 1421.12L1134.91 1421.53L1135.98 1421.4L1137.05 1421.81L1138.12 1420.58L1139.19 1420.72L1140.26 1420.28L1141.33 1421.6L1142.4 1421.29L1143.47 1420.98L1144.54 1420.94L1145.61 1421.01L1146.68 1420.84L1147.75 1421.14L1148.82 1421.05L1149.89 1421.99L1150.96 1421.46L1152.03 1420.89L1153.1 1421.01L1154.17 1421.9L1155.24 1421.53L1156.31 1421.45L1157.38 1421.66L1158.45 1423.28L1159.52 1420.69L1160.59 1420.93L1161.66 1420.43L1162.73 1421.92L1163.8 1421.11L1164.87 1420.96L1165.94 1420.92L1167.01 1421.65L1168.08 1421.23L1169.15 1421.03L1170.22 1421.93L1171.29 1420.78L1172.36 1420.67L1173.43 1422.6L1174.5 1421.12L1175.57 1421.03L1176.64 1420.94L1177.71 1421.23L1178.78 1421.69L1179.85 1421.68L1180.92 1421.57L1181.99 1421.16L1183.06 1420.55L1184.13 1421.44L1185.2 1422.06L1186.27 1421.83L1187.34 1421.22L1188.41 1421.7L1189.48 1421.11L1190.55 1421.27L1191.62 1420.68L1192.69 1421.14L1193.76 1421.37L1194.83 1421.22L1195.9 1421.68L1196.97 1422.24L1198.04 1421.96L1199.11 1421.15L1200.18 1420.93L1201.25 1420.97L1202.32 1420.81L1203.39 1421.32L1204.46 1421.51L1205.53 1421.39L1206.6 1421.4L1207.67 1421.38L1208.74 1421.23L1209.81 1420.93L1210.88 1422.16L1211.95 1421.82L1213.02 1420.85L1214.09 1420.85L1215.16 1421.01L1216.23 1421.32L1217.3 1421.93L1218.37 1421.81L1219.44 1421.83L1220.51 1422.66L1221.58 1421.85L1222.65 1421.67L1223.72 1421.53L1224.79 1421.15L1225.86 1420.43L1226.93 1421.24L1228 1422.2L1229.07 1421.03L1230.14 1420.99L1231.21 1421.81L1232.28 1421.4L1233.35 1421.06L1234.42 1422.08L1235.49 1421.61L1236.56 1421.68L1237.63 1421.02L1238.7 1421.55L1239.77 1421.49L1240.84 1421.69L1241.91 1421.87L1242.98 1421.86L1244.05 1421.39L1245.12 1421.64L1246.19 1420.73L1247.26 1421.62L1248.33 1421.64L1249.4 1421.11L1250.47 1420.91L1251.54 1421.27L1252.61 1420.69L1253.68 1421.73L1254.75 1421.45L1255.82 1420.83L1256.89 1421.32L1257.96 1421.83L1259.03 1421.83L1260.1 1421.81L1261.17 1421.22L1262.24 1421.13L1263.31 1421.1L1264.38 1421.6L1265.45 1422.48L1266.52 1422L1267.59 1422.09L1268.66 1421.97L1269.73 1420.49L1270.8 1421.2L1271.87 1421.08L1272.94 1421.92L1274.01 1422.14L1275.08 1420.97L1276.15 1421.32L1277.22 1422L1278.29 1421.06L1279.36 1420.99L1280.43 1420.96L1281.5 1421.74L1282.57 1420.85L1283.64 1421.87L1284.71 1421.41L1285.78 1421.68L1286.85 1422.07L1287.92 1420.97L1288.99 1420.89L1290.06 1421.51L1291.13 1420.78L1292.2 1420.93L1293.27 1421.24L1294.34 1421.38L1295.41 1420.68L1296.48 1421.11L1297.55 1421.59L1298.62 1421.97L1299.69 1420.32L1300.76 1421.95L1301.83 1421.74L1302.9 1420.76L1303.97 1420.57L1305.04 1421.51L1306.11 1421.09L1307.18 1421.37L1308.25 1421.73L1309.32 1421.11L1310.39 1421.38L1311.46 1421.54L1312.53 1421.74L1313.6 1422.18L1314.67 1422.15L1315.74 1421.42L1316.81 1421.18L1317.88 1422.48L1318.95 1421.62L1320.02 1421.51L1321.09 1420.75L1322.16 1422.27L1323.23 1420.91L1324.3 1421.07L1325.37 1420.64L1326.44 1421.04L1327.51 1421.33L1328.58 1420.55L1329.65 1420.85L1330.72 1421.26L1331.79 1420.67L1332.86 1420.68L1333.93 1420.89L1335 1420.6L1336.07 1421.61L1337.14 1420.81L1338.21 1421.68L1339.28 1421.76L1340.35 1420.7L1341.42 1421.32L1342.49 1421.06L1343.56 1420.73L1344.63 1421.13L1345.7 1421.18L1346.77 1421.65L1347.84 1421.81L1348.91 1420.75L1349.98 1421.1L1351.05 1421.56L1352.12 1421.89L1353.19 1420.08L1354.26 1421.94L1355.33 1421.22L1356.4 1422.06L1357.47 1421.09L1358.54 1420.89L1359.61 1421.32L1360.68 1421.88L1361.75 1421.32L1362.82 1420.12L1363.89 1421.64L1364.96 1420.5L1366.03 1420.81L1367.1 1420.72L1368.17 1420.38L1369.24 1420.67L1370.31 1420.81L1371.38 1420.99L1372.45 1421.27L1373.52 1421.13L1374.59 1420.56L1375.66 1421.21L1376.73 1421.79L1377.8 1421.77L1378.87 1421.37L1379.94 1421.61L1381.01 1421.75L1382.08 1421.98L1383.15 1422.15L1384.22 1421.14L1385.29 1421.16L1386.36 1422.04L1387.43 1422.08L1388.5 1422.07L1389.57 1420.13L1390.64 1421.19L1391.71 1419.67L1392.78 1421.66L1393.85 1421.33L1394.92 1421.33L1395.99 1421.23L1397.06 1421.95L1398.13 1421.15L1399.2 1421.82L1400.27 1421.58L1401.34 1421.48L1402.41 1421.53L1403.48 1421.36L1404.55 1420.75L1405.62 1421.66L1406.69 1421.66L1407.76 1421.23L1408.83 1421.67L1409.9 1421.75L1410.97 1420.66L1412.04 1421.23L1413.11 1421.08L1414.18 1420.17L1415.25 1421.46L1416.32 1420.88L1417.39 1421.08L1418.46 1421.61L1419.53 1421.47L1420.6 1421.46L1421.67 1422.42L1422.74 1421.05L1423.81 1421.43L1424.88 1420.7L1425.95 1421.54L1427.02 1421.88L1428.09 1421.91L1429.16 1420.98L1430.23 1421.16L1431.3 1421.93L1432.37 1421.25L1433.44 1421.78L1434.51 1420.81L1435.58 1421.99L1436.65 1422.58L1437.72 1421.53L1438.79 1420.9L1439.86 1421.22L1440.93 1421.38L1442 1421.43L1443.07 1421.25L1444.14 1421.19L1445.21 1421.4L1446.28 1422L1447.35 1420.3L1448.42 1420.61L1449.49 1420.53L1450.56 1420.96L1451.63 1420.43L1452.7 1421.99L1453.77 1421.35L1454.84 1421.17L1455.91 1420.96L1456.98 1421.38L1458.05 1421.39L1459.12 1421.47L1460.19 1420.94L1461.26 1421.62L1462.33 1420.57L1463.4 1421.92L1464.47 1419.76L1465.54 1421L1466.61 1420.7L1467.68 1421.69L1468.75 1420.56L1469.82 1423.3L1470.89 1420.53L1471.96 1422.31L1473.03 1421.52L1474.1 1421.32L1475.17 1421.52L1476.24 1422.4L1477.31 1421.75L1478.38 1420.18L1479.45 1421.9L1480.52 1421.42L1481.59 1420.49L1482.66 1421.68L1483.73 1420.69L1484.8 1421.39L1485.87 1421.42L1486.94 1420.98L1488.01 1421.62L1489.08 1420.79L1490.15 1421.4L1491.22 1421.03L1492.29 1421.07L1493.36 1422.26L1494.43 1421.36L1495.5 1420.76L1496.57 1421.24L1497.64 1420.92L1498.71 1421.31L1499.78 1421.38L1500.85 1421.34L1501.92 1421.34L1502.99 1420.62L1504.06 1421.52L1505.13 1421.83L1506.2 1420.99L1507.27 1421.27L1508.34 1421.33L1509.41 1421.93L1510.48 1421.84L1511.55 1420.93L1512.62 1421.34L1513.69 1420.55L1514.76 1420.82L1515.83 1421.31L1516.9 1421.61L1517.97 1421.78L1519.04 1421.14L1520.11 1420.62L1521.18 1421.5L1522.25 1421.21L1523.32 1421.51L1524.39 1421.38L1525.46 1421.66L1526.53 1421.63L1527.6 1421.72L1528.67 1421.07L1529.74 1422.54L1530.81 1421.05L1531.88 1421.34L1532.95 1422.23L1534.02 1421.48L1535.09 1420.72L1536.16 1422.05L1537.23 1421.8L1538.3 1421.87L1539.37 1421.4L1540.44 1421.47L1541.51 1421.18L1542.58 1420.95L1543.65 1422.06L1544.72 1421.12L1545.79 1421.06L1546.86 1421.08L1547.93 1422.23L1549 1421.74L1550.07 1421.12L1551.14 1421.28L1552.21 1421.56L1553.28 1421.74L1554.35 1420.49L1555.42 1421.75L1556.49 1421.19L1557.56 1420.44L1558.63 1421.1L1559.7 1421.7L1560.77 1422.18L1561.84 1421.37L1562.91 1421.58L1563.98 1420.89L1565.05 1421.55L1566.12 1421.71L1567.19 1420.56L1568.26 1421.04L1569.33 1421.7L1570.4 1420.42L1571.47 1421.11L1572.54 1421.6L1573.61 1420.45L1574.68 1421.1L1575.75 1421.33L1576.82 1421.75L1577.89 1420.66L1578.96 1421.85L1580.03 1421.45L1581.1 1421.9L1582.17 1422.75L1583.24 1421.47L1584.31 1421.54L1585.38 1420.43L1586.45 1420.62L1587.52 1420.8L1588.59 1421.13L1589.66 1421.77L1590.73 1420.41L1591.8 1421.14L1592.87 1420.64L1593.94 1420.52L1595.01 1422.04L1596.08 1421.35L1597.15 1422.12L1598.22 1422.78L1599.29 1420.84L1600.36 1420.37L1601.43 1422.34L1602.5 1420.79L1603.57 1420.73L1604.64 1421.65L1605.71 1421.37L1606.78 1420.96L1607.85 1421.13L1608.92 1421.38L1609.99 1421.34L1611.06 1421.68L1612.13 1421.12L1613.2 1421.13L1614.27 1421.6L1615.34 1421.46L1616.41 1422.67L1617.48 1421.18L1618.55 1421.25L1619.62 1420.72L1620.69 1422.05L1621.76 1420.6L1622.83 1421.4L1623.9 1420.85L1624.97 1421.47L1626.04 1421.67L1627.11 1420.48L1628.18 1421.19L1629.25 1420.42L1630.32 1422L1631.39 1421.08L1632.46 1420.51L1633.53 1420.95L1634.6 1421.96L1635.67 1422.04L1636.74 1421.94L1637.81 1420.91L1638.88 1421.22L1639.95 1422.12L1641.02 1420.93L1642.09 1421.13L1643.16 1420.82L1644.23 1420.72L1645.3 1421.9L1646.37 1421.62L1647.44 1421.52L1648.51 1421.59L1649.58 1421.81L1650.65 1422.06L1651.72 1421.3L1652.79 1421.13L1653.86 1420.79L1654.93 1421.84L1656 1421.04L1657.07 1420.55L1658.14 1421.17L1659.21 1421.31L1660.28 1421.72L1661.35 1421.8L1662.42 1420.93L1663.49 1420.9L1664.56 1421.14L1665.63 1420.69L1666.7 1421.25L1667.77 1421.53L1668.84 1421.32L1669.91 1420.49L1670.98 1420.7L1672.05 1421.94L1673.12 1420.79L1674.19 1421.67L1675.26 1421.62L1676.33 1421.14L1677.4 1420.8L1678.47 1421.41L1679.54 1420.86L1680.61 1421.21L1681.68 1421.35L1682.75 1420.94L1683.82 1421.19L1684.89 1421.15L1685.96 1420.68L1687.03 1421.2L1688.1 1420.98L1689.17 1419.3L1690.24 1421.13L1691.31 1421.16L1692.38 1421L1693.45 1420.27L1694.52 1421.69L1695.59 1421.64L1696.66 1421.63L1697.73 1421.46L1698.8 1420.67L1699.87 1421.36L1700.94 1420.84L1702.01 1422.39L1703.08 1421.04L1704.15 1421.63L1705.22 1420.52L1706.29 1420.71L1707.36 1421.03L1708.43 1421.65L1709.5 1421.57L1710.57 1421.44L1711.64 1420.37L1712.71 1421.87L1713.78 1420.84L1714.85 1422.11L1715.92 1422.23L1716.99 1421.71L1718.06 1421.79L1719.13 1420.67L1720.2 1422.59L1721.27 1421.41L1722.34 1421.8L1723.41 1420.87L1724.48 1421.27L1725.55 1420.71L1726.62 1421.18L1727.69 1421.31L1728.76 1421.43L1729.83 1422L1730.9 1421.54L1731.97 1421.42L1733.04 1421.32L1734.11 1422.31L1735.18 1421.01L1736.25 1421.89L1737.32 1420.32L1738.39 1420.86L1739.46 1421.51L1740.53 1421.22L1741.6 1422.8L1742.67 1422.59L1743.74 1420.54L1744.81 1420.76L1745.88 1421.23L1746.95 1422.17L1748.02 1421.87L1749.09 1421.46L1750.16 1420.59L1751.23 1420.88L1752.3 1419.96L1753.37 1420.53L1754.44 1421.51L1755.51 1421.7L1756.58 1420.65L1757.65 1421.36L1758.72 1422.12L1759.79 1421.38L1760.86 1421.15L1761.93 1421.61L1763 1421.97L1764.07 1421.34L1765.14 1421.03L1766.21 1421.09L1767.28 1421.35L1768.35 1421.03L1769.42 1421.97L1770.49 1421.75L1771.56 1421.85L1772.63 1422.32L1773.7 1422.09L1774.77 1422.01L1775.84 1421.49L1776.91 1421.07L1777.98 1422.45L1779.05 1420.97L1780.12 1420.99L1781.19 1420.87L1782.26 1421.41L1783.33 1421.51L1784.4 1421.82L1785.47 1421.19L1786.54 1420.44L1787.61 1421.46L1788.68 1421.79L1789.75 1421.32L1790.82 1421.24L1791.89 1421.58L1792.96 1422.02L1794.03 1421.27L1795.1 1420.59L1796.17 1421.02L1797.24 1421.22L1798.31 1420.4L1799.38 1421.69L1800.45 1420.92L1801.52 1421.56L1802.59 1421.4L1803.66 1421.15L1804.73 1422.12L1805.8 1421.02L1806.87 1420.96L1807.94 1421.45L1809.01 1421.72L1810.08 1421.3L1811.15 1420.81L1812.22 1421.65L1813.29 1421.6L1814.36 1422.34L1815.43 1421.19L1816.5 1421.41L1817.57 1421.02L1818.64 1420.56L1819.71 1421.34L1820.78 1421.73L1821.85 1420.03L1822.92 1420.96L1823.99 1420.71L1825.06 1421.97L1826.13 1420.98L1827.2 1421.59L1828.27 1420.87L1829.34 1421.34L1830.41 1420.99L1831.48 1420.13L1832.55 1421.34L1833.62 1421.56L1834.69 1420.26L1835.76 1421.21L1836.83 1421.08L1837.9 1420.76L1838.97 1421.17L1840.04 1420.33L1841.11 1421.43L1842.18 1421.89L1843.25 1420.67L1844.32 1421.27L1845.39 1422.01L1846.46 1421.36L1847.53 1421.04L1848.6 1420.84L1849.67 1421.39L1850.74 1421.23L1851.81 1421.62L1852.88 1420.54L1853.95 1421.84L1855.02 1421.1L1856.09 1421.62L1857.16 1420.94L1858.23 1420.65L1859.3 1421.02L1860.37 1420.82L1861.44 1421.11L1862.51 1421.62L1863.58 1421.84L1864.65 1421.4L1865.72 1421.03L1866.79 1421.07L1867.86 1421.6L1868.93 1421.87L1870 1421.14L1871.07 1421.24L1872.14 1420.92L1873.21 1421.4L1874.28 1421.78L1875.35 1419.85L1876.42 1421.43L1877.49 1421.02L1878.56 1420.14L1879.63 1421.46L1880.7 1421.26L1881.77 1421.48L1882.84 1420.62L1883.91 1422.37L1884.98 1421.36L1886.05 1421.13L1887.12 1422.06L1888.19 1421.63L1889.26 1421.72L1890.33 1421.88L1891.4 1420.26L1892.47 1422.13L1893.54 1421.13L1894.61 1421.44L1895.68 1421.76L1896.75 1420.94L1897.82 1421.46L1898.89 1421.68L1899.96 1421.28L1901.03 1421.55L1902.1 1420.5L1903.17 1420.7L1904.24 1420.72L1905.31 1421.49L1906.38 1423.17L1907.45 1421.43L1908.52 1421.23L1909.59 1421.27L1910.66 1421.79L1911.73 1421.66L1912.8 1420.73L1913.87 1421.81L1914.94 1421.27L1916.01 1421.71L1917.08 1420.3L1918.15 1420.52L1919.22 1421.6L1920.29 1420.4L1921.36 1421.49L1922.43 1421.47L1923.5 1421.48L1924.57 1421.48L1925.64 1421.43L1926.71 1421.52L1927.78 1421.1L1928.85 1421.29L1929.92 1422.76L1930.99 1421.87L1932.06 1421.61L1933.13 1421.5L1934.2 1420.94L1935.27 1421.41L1936.34 1421.18L1937.41 1421.77L1938.48 1420.84L1939.55 1420.12L1940.62 1421.02L1941.69 1421.65L1942.76 1422.53L1943.83 1421.81L1944.9 1420.81L1945.97 1421.19L1947.04 1420.82L1948.11 1421.21L1949.18 1420.85L1950.25 1420.48L1951.32 1421.52L1952.39 1421.4L1953.46 1421.21L1954.53 1421.47L1955.6 1422.32L1956.67 1421.36L1957.74 1421.11L1958.81 1421.73L1959.88 1420.48L1960.95 1421.68L1962.02 1420.91L1963.09 1420.89L1964.16 1421.35L1965.23 1422.14L1966.3 1420.93L1967.37 1421.78L1968.44 1421.49L1969.51 1420.6L1970.58 1421.76L1971.65 1420.89L1972.72 1420.56L1973.79 1420.9L1974.86 1420.94L1975.93 1421.6L1977 1420.93L1978.07 1423.17L1979.14 1421.41L1980.21 1420.94L1981.28 1420.88L1982.35 1421.41L1983.42 1420.29L1984.49 1420.21L1985.56 1420.86L1986.63 1421.61L1987.7 1421.39L1988.77 1421.31L1989.84 1421.19L1990.91 1420.21L1991.98 1421.14L1993.05 1420.41L1994.12 1421.72L1995.19 1421.3L1996.26 1421.26L1997.33 1421.5L1998.4 1421.46L1999.47 1421.42L2000.54 1421.47L2001.61 1421.01L2002.68 1420.63L2003.75 1421.47L2004.82 1422.02L2005.89 1421.81L2006.96 1421.19L2008.03 1421.61L2009.1 1421.08L2010.17 1421.49L2011.24 1421L2012.31 1421.37L2013.38 1422.3L2014.45 1421.69L2015.52 1422.05L2016.59 1420.91L2017.66 1420.96L2018.73 1421.28L2019.8 1421.58L2020.87 1421.2L2021.94 1421.81L2023.01 1421.02L2024.08 1421.98L2025.15 1421.78L2026.22 1420.74L2027.29 1421.59L2028.36 1421.19L2029.43 1421.81L2030.5 1421.03L2031.57 1421.46L2032.64 1421.57L2033.71 1419.92L2034.78 1420.36L2035.85 1421.36L2036.92 1421.24L2037.99 1421.81L2039.06 1421.41L2040.13 1420.66L2041.2 1421.46L2042.27 1420.92L2043.34 1421.19L2044.41 1421.05L2045.48 1421.47L2046.55 1420.59L2047.62 1420.74L2048.69 1420.19L2049.76 1423.3L2050.83 1420.8L2051.9 1420.87L2052.97 1420.72L2054.04 1420.98L2055.11 1421.08L2056.18 1421.61L2057.25 1421.39L2058.32 1421.46L2059.39 1421L2060.46 1421.26L2061.53 1421.91L2062.6 1421.29L2063.67 1421.45L2064.74 1420.29L2065.81 1421.56L2066.88 1421.43L2067.95 1421.94L2069.02 1419.92L2070.09 1421.31L2071.16 1421.24L2072.23 1421.34L2073.3 1420.5L2074.37 1421.4L2075.44 1421.64L2076.51 1421.32L2077.58 1421.15L2078.65 1421.19L2079.72 1421.1L2080.79 1421.31L2081.86 1420.93L2082.93 1420.29L2084 1421.97L2085.07 1420.41L2086.14 1421.23L2087.21 1420.64L2088.28 1421.14L2089.35 1420.8L2090.42 1421.27L2091.49 1420.87L2092.56 1420.64L2093.63 1421.44L2094.7 1421.95L2095.77 1421.46L2096.84 1421.4L2097.91 1420.76L2098.98 1421.24L2100.05 1421.51L2101.12 1420.96L2102.19 1421.73L2103.26 1421.26L2104.33 1421.46L2105.4 1421.03L2106.47 1421.04L2107.54 1421.39L2108.61 1421.47L2109.68 1421.45L2110.75 1420.77L2111.82 1420.91L2112.89 1421.27L2113.96 1420.35L2115.03 1421.8L2116.1 1421.43L2117.17 1421.3L2118.24 1420.92L2119.31 1421.69L2120.38 1421.14L2121.45 1422.23L2122.52 1421.47L2123.59 1420.53L2124.66 1421.64L2125.73 1421.01L2126.8 1421.01L2127.87 1421.15L2128.94 1421.21L2130.01 1421.4L2131.08 1421.65L2132.15 1421.5L2133.22 1420.91L2134.29 1420.6L2135.36 1420.87L2136.43 1421.68L2137.5 1421.71L2138.57 1422.17L2139.64 1420.6L2140.71 1421.31L2141.78 1421.16L2142.85 1421.07L2143.92 1421.34L2144.99 1420.92L2146.06 1421.14L2147.13 1420.95L2148.2 1421.47L2149.27 1421.8L2150.34 1422.09L2151.41 1421.01L2152.48 1420.74L2153.55 1421.14L2154.62 1420.85L2155.69 1421.79L2156.76 1420.86L2157.83 1421.31L2158.9 1420.6L2159.97 1421.1L2161.04 1421.37L2162.11 1422.04L2163.18 1420.92L2164.25 1421.46L2165.32 1420.23L2166.39 1420.67L2167.46 1420.86L2168.53 1421.02L2169.6 1421.49L2170.67 1421.59L2171.74 1420.47L2172.81 1421.53L2173.88 1420.71L2174.95 1422.19L2176.02 1421.43L2177.09 1421.34L2178.16 1421.18L2179.23 1421.25L2180.3 1421.22L2181.37 1420.92L2182.44 1421.64L2183.51 1421.4L2184.58 1421.64L2185.65 1421.24L2186.72 1421.61L2187.79 1420.89L2188.86 1423.05L2189.93 1420.91L2191 1421.05L2192.07 1421.75L2193.14 1421.88L2194.21 1420.87L2195.28 1420.44L2196.35 1420.57L2197.42 1419.98L2198.49 1420.88L2199.56 1421.19L2200.63 1421.78L2201.7 1421.81L2202.77 1420.96L2203.84 1421.54L2204.91 1421.71L2205.98 1421.97L2207.05 1421.19L2208.12 1420.9L2209.19 1421.64L2210.26 1422.02L2211.33 1421L2212.4 1422.24L2213.47 1422.13L2214.54 1421.14L2215.61 1420.48L2216.68 1420.97L2217.75 1421.09L2218.82 1421.53L2219.89 1420.43L2220.96 1422.48L2222.03 1422.44L2223.1 1420.9L2224.17 1420.34L2225.24 1421.18L2226.31 1421.48L2227.38 1421.94L2228.45 1421.62L2229.52 1421.16L2230.59 1420.28L2231.66 1421.52L2232.73 1421.69L2233.8 1421.11L2234.87 1421.4L2235.94 1421.37L2237.01 1421.14L2238.08 1420.69L2239.15 1421.44L2240.22 1420.56L2241.29 1421.97L2242.36 1420.81L2243.43 1421.83L2244.5 1420.9L2245.57 1421.45L2246.64 1421.16L2247.71 1421.53L2248.78 1420.87L2249.85 1420.45L2250.92 1421.12L2251.99 1421.09L2253.06 1420.51L2254.13 1420.92L2255.2 1420.43L2256.27 1421.32L2257.34 1421.08L2258.41 1421.27L2259.48 1423.3L2260.55 1421.34L2261.62 1421.45L2262.69 1421.58L2263.76 1421.19L2264.83 1420.97L2265.9 1421.7L2266.97 1421.78L2268.04 1419.8L2269.11 1421.18L2270.18 1421.09L2271.25 1420.98L2272.32 1421.88L2273.39 1420.99L2274.46 1421.69L2275.53 1420.99L2276.6 1421.06L2277.67 1421.63L2278.74 1420.89L2279.81 1421.18L2280.88 1420.71L2281.95 1420.82L2283.02 1421.62L2284.09 1421.55L2285.16 1420.69L2286.23 1420.67L2287.3 1422.53L2288.37 1420.4L2289.44 1420.83L2290.51 1421.52L2291.58 1420.87L2292.65 1421.08L2293.72 1421.71L2294.79 1421.76L2295.86 1421.16L2296.93 1421.93L2298 1421.19L2299.07 1421.14L2300.14 1421.26L2301.21 1421.11L2302.28 1421.52L2303.35 1421.55L2304.42 1420.87L2305.49 1421.35L2306.56 1420.99L2307.63 1420.97L2308.7 1421.19L2309.77 1421.77L2310.84 1421.4L2311.91 1421.89L2312.98 1422.04L2314.05 1421.24L2315.12 1420.96L2316.19 1420.87L2317.26 1421.4L2318.33 1421.69L2319.4 1422.05L2320.47 1420.61L2321.54 1421.72L2322.61 1421.8L2323.68 1422.48L2324.75 1421.35L2325.82 1421.25L2326.89 1420.5L2327.96 1420.23L2329.03 1420.71L2330.1 1420.76L2331.17 1420.81L2332.24 1420.5L2333.31 1421.22L2334.38 1421.46L2335.45 1421.64L2336.52 1421.22L2337.59 1421.79L2338.66 1421.8L2339.73 1420.51L2340.8 1421.13L2341.87 1420.64L2342.94 1420.78L2344.01 1421.36L2345.08 1421.2L2346.15 1422L2347.22 1422.29L2348.29 1421.48L2349.36 1421.17L2350.43 1421.19L2351.5 1421.26L2352.57 1421.55L2353.64 1420.9L2354.71 1421.56L2355.78 1420.92L2356.85 1421.8L2357.92 1421.95L2358.99 1423.3L2360.06 1421.19L2361.13 1420.6L2362.2 1420.43L2363.27 1421.12L2364.34 1420.56L2365.41 1420.45L2366.48 1421.1L2367.55 1420.78L2368.62 1421.62L2369.69 1422.24L2370.76 1421.16L2371.83 1421.43L2372.9 1420.49L2373.97 1421.36L2375.04 1420.92L2376.11 1420.73L2377.18 1420.34L2378.25 1422.08L2379.32 1420.47L2380.39 1420.67L2381.46 1421.28L2382.53 1421.42L2383.6 1421.42L2384.67 1421.33L2385.74 1420.83L2386.81 1421.66L2387.88 1421.37L2388.95 1420.55L2390.02 1422.08L2391.09 1421.11L2392.16 1421.75L2393.23 1420.55L2394.3 1420.68L2395.37 1420.99L2396.44 1420.93L2397.51 1421.79L2398.58 1420.47L2399.65 1421.36L2400.72 1420.77L2401.79 1421.54L2402.86 1421.51"/>
</g>
<text class="t" transform="translate(187.8 1608.7) scale(1.069 1)">0</text>
<text class="t" transform="translate(413.93 1608.7) scale(1.069 1)">500</text>
<text class="t" transform="translate(659.92 1608.7) scale(1.069 1)">1000</text>
<text class="t" transform="translate(927.42 1608.7) scale(1.069 1)">1500</text>
<text class="t" transform="translate(1196.8 1608.7) scale(1.069 1)">2000</text>
<text class="t" transform="translate(1464.3 1608.7) scale(1.069 1)">2500</text>
<text class="t" transform="translate(1731.67 1608.7) scale(1.069 1)">3000</text>
<text class="t" transform="translate(1999.18 1608.7) scale(1.069 1)">3500</text>
<text class="t" transform="translate(2267.93 1608.7) scale(1.069 1)">4000</text>
<text class="t" transform="translate(138.62 1393.9) scale(1.069 1)">2</text>
<text class="t" transform="translate(138.5 1451.7) scale(1.069 1)">0</text>
<text class="t" transform="translate(113.68 1509.5) scale(1.069 1)">-2</text>
<text class="h" transform="translate(376.84 1315.8) scale(0.9931 1)">MSCG (MSE = 9.90e-04, Iter=101, Time=3.97s)</text>
</svg>
</body>
</html>
